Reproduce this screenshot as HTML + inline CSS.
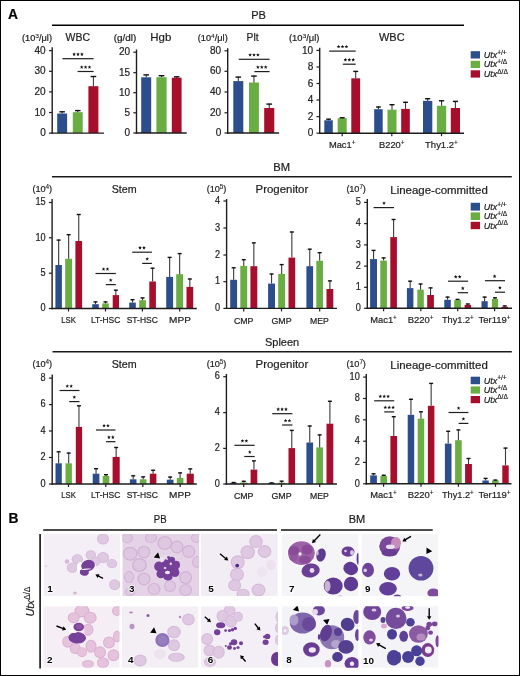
<!DOCTYPE html>
<html><head><meta charset="utf-8"><style>
html,body{margin:0;padding:0;background:#fff;}
body{width:520px;height:676px;overflow:hidden;}
svg{display:block;font-family:"Liberation Sans", sans-serif;will-change:transform;}
text:not(.n){stroke:#222;stroke-width:.2px;}
tspan.s{stroke-width:.1px;}
</style></head><body>
<svg width="520" height="676" viewBox="0 0 520 676">
<rect x="0" y="0" width="520" height="676" fill="#fff"/>
<text x="8.0" y="18.5" font-size="13.8" text-anchor="start" font-weight="bold" font-style="normal" fill="#000" >A</text>
<text x="258.6" y="19" font-size="11" text-anchor="middle" font-weight="normal" font-style="normal" fill="#1a1a1a" >PB</text>
<line x1="52" y1="25.2" x2="464" y2="25.2" stroke="#000" stroke-width="1.5"/>
<rect x="57.2" y="113.5" width="9.899999999999991" height="19.599999999999994" fill="#2c4e8c"/>
<line x1="62.15" y1="113.5" x2="62.15" y2="111.3" stroke="#3a3a3a" stroke-width="1.1"/>
<line x1="59.378" y1="111.8" x2="64.922" y2="111.8" stroke="#111" stroke-width="1.4"/>
<rect x="72.8" y="112.2" width="9.900000000000006" height="20.89999999999999" fill="#6aad43"/>
<line x1="77.75" y1="112.2" x2="77.75" y2="110.1" stroke="#3a3a3a" stroke-width="1.1"/>
<line x1="74.978" y1="110.6" x2="80.522" y2="110.6" stroke="#111" stroke-width="1.4"/>
<rect x="88.4" y="86.2" width="10.0" height="46.89999999999999" fill="#a60e2c"/>
<line x1="93.4" y1="86.2" x2="93.4" y2="76" stroke="#3a3a3a" stroke-width="1.1"/>
<line x1="90.60000000000001" y1="76.5" x2="96.2" y2="76.5" stroke="#111" stroke-width="1.4"/>
<line x1="52.2" y1="47.3" x2="52.2" y2="133.75" stroke="#1e1e1e" stroke-width="1.4"/>
<line x1="51.5" y1="133.1" x2="104" y2="133.1" stroke="#1e1e1e" stroke-width="1.4"/>
<line x1="49.0" y1="50.6" x2="52.2" y2="50.6" stroke="#1e1e1e" stroke-width="1.2"/>
<text x="45.7" y="53.7" font-size="10.0" text-anchor="end" font-weight="normal" font-style="normal" fill="#222" >40</text>
<line x1="49.0" y1="71.3" x2="52.2" y2="71.3" stroke="#1e1e1e" stroke-width="1.2"/>
<text x="45.7" y="74.39999999999999" font-size="10.0" text-anchor="end" font-weight="normal" font-style="normal" fill="#222" >30</text>
<line x1="49.0" y1="91.9" x2="52.2" y2="91.9" stroke="#1e1e1e" stroke-width="1.2"/>
<text x="45.7" y="95.0" font-size="10.0" text-anchor="end" font-weight="normal" font-style="normal" fill="#222" >20</text>
<line x1="49.0" y1="112.5" x2="52.2" y2="112.5" stroke="#1e1e1e" stroke-width="1.2"/>
<text x="45.7" y="115.6" font-size="10.0" text-anchor="end" font-weight="normal" font-style="normal" fill="#222" >10</text>
<line x1="49.0" y1="133.1" x2="52.2" y2="133.1" stroke="#1e1e1e" stroke-width="1.2"/>
<text x="45.7" y="136.2" font-size="10.0" text-anchor="end" font-weight="normal" font-style="normal" fill="#222" >0</text>
<line x1="62.4" y1="58.7" x2="93.6" y2="58.7" stroke="#1e1e1e" stroke-width="1.2"/>
<polygon points="74.10,52.35 74.60,53.61 75.95,53.70 74.91,54.56 75.25,55.88 74.10,55.15 72.95,55.88 73.29,54.56 72.25,53.70 73.60,53.61" fill="#111"/>
<polygon points="78.00,52.35 78.50,53.61 79.85,53.70 78.81,54.56 79.15,55.88 78.00,55.15 76.85,55.88 77.19,54.56 76.15,53.70 77.50,53.61" fill="#111"/>
<polygon points="81.90,52.35 82.40,53.61 83.75,53.70 82.71,54.56 83.05,55.88 81.90,55.15 80.75,55.88 81.09,54.56 80.05,53.70 81.40,53.61" fill="#111"/>
<line x1="77.6" y1="71.5" x2="93.6" y2="71.5" stroke="#1e1e1e" stroke-width="1.2"/>
<polygon points="81.70,65.15 82.20,66.41 83.55,66.50 82.51,67.36 82.85,68.68 81.70,67.95 80.55,68.68 80.89,67.36 79.85,66.50 81.20,66.41" fill="#111"/>
<polygon points="85.60,65.15 86.10,66.41 87.45,66.50 86.41,67.36 86.75,68.68 85.60,67.95 84.45,68.68 84.79,67.36 83.75,66.50 85.10,66.41" fill="#111"/>
<polygon points="89.50,65.15 90.00,66.41 91.35,66.50 90.31,67.36 90.65,68.68 89.50,67.95 88.35,68.68 88.69,67.36 87.65,66.50 89.00,66.41" fill="#111"/>
<text x="22" y="40.9" font-size="8.5" fill="#1a1a1a" textLength="30" lengthAdjust="spacingAndGlyphs">(10<tspan class="s" baseline-shift="3.0" font-size="72%">3</tspan>/&#956;l)</text>
<text x="65.5" y="41.2" font-size="11" text-anchor="start" font-weight="normal" font-style="normal" fill="#1a1a1a" textLength="24.5" lengthAdjust="spacingAndGlyphs" >WBC</text>
<rect x="141.2" y="77.3" width="10.0" height="55.7" fill="#2c4e8c"/>
<line x1="146.2" y1="77.3" x2="146.2" y2="74.4" stroke="#3a3a3a" stroke-width="1.1"/>
<line x1="143.39999999999998" y1="74.9" x2="149.0" y2="74.9" stroke="#111" stroke-width="1.4"/>
<rect x="156.4" y="77.2" width="10.199999999999989" height="55.8" fill="#6aad43"/>
<line x1="161.5" y1="77.2" x2="161.5" y2="75.2" stroke="#3a3a3a" stroke-width="1.1"/>
<line x1="158.644" y1="75.7" x2="164.356" y2="75.7" stroke="#111" stroke-width="1.4"/>
<rect x="171.8" y="77.7" width="9.799999999999983" height="55.3" fill="#a60e2c"/>
<line x1="176.7" y1="77.7" x2="176.7" y2="76.3" stroke="#3a3a3a" stroke-width="1.1"/>
<line x1="173.956" y1="76.8" x2="179.444" y2="76.8" stroke="#111" stroke-width="1.4"/>
<line x1="136.5" y1="49.5" x2="136.5" y2="133.65" stroke="#1e1e1e" stroke-width="1.4"/>
<line x1="135.8" y1="133" x2="186.7" y2="133" stroke="#1e1e1e" stroke-width="1.4"/>
<line x1="133.3" y1="52.2" x2="136.5" y2="52.2" stroke="#1e1e1e" stroke-width="1.2"/>
<text x="130.0" y="55.300000000000004" font-size="10.0" text-anchor="end" font-weight="normal" font-style="normal" fill="#222" >20</text>
<line x1="133.3" y1="72.7" x2="136.5" y2="72.7" stroke="#1e1e1e" stroke-width="1.2"/>
<text x="130.0" y="75.8" font-size="10.0" text-anchor="end" font-weight="normal" font-style="normal" fill="#222" >15</text>
<line x1="133.3" y1="92.7" x2="136.5" y2="92.7" stroke="#1e1e1e" stroke-width="1.2"/>
<text x="130.0" y="95.8" font-size="10.0" text-anchor="end" font-weight="normal" font-style="normal" fill="#222" >10</text>
<line x1="133.3" y1="112.8" x2="136.5" y2="112.8" stroke="#1e1e1e" stroke-width="1.2"/>
<text x="130.0" y="115.89999999999999" font-size="10.0" text-anchor="end" font-weight="normal" font-style="normal" fill="#222" >5</text>
<line x1="133.3" y1="133" x2="136.5" y2="133" stroke="#1e1e1e" stroke-width="1.2"/>
<text x="130.0" y="136.1" font-size="10.0" text-anchor="end" font-weight="normal" font-style="normal" fill="#222" >0</text>
<text x="113.8" y="40.9" font-size="8.5" text-anchor="start" font-weight="normal" font-style="normal" fill="#1a1a1a" textLength="22.5" lengthAdjust="spacingAndGlyphs" >(g/dl)</text>
<text x="150.3" y="41.2" font-size="11" text-anchor="start" font-weight="normal" font-style="normal" fill="#1a1a1a" textLength="21" lengthAdjust="spacingAndGlyphs" >Hgb</text>
<rect x="233.3" y="81.1" width="10.0" height="51.900000000000006" fill="#2c4e8c"/>
<line x1="238.3" y1="81.1" x2="238.3" y2="76.6" stroke="#3a3a3a" stroke-width="1.1"/>
<line x1="235.5" y1="77.1" x2="241.10000000000002" y2="77.1" stroke="#111" stroke-width="1.4"/>
<rect x="249" y="82.5" width="9.899999999999977" height="50.5" fill="#6aad43"/>
<line x1="253.95" y1="82.5" x2="253.95" y2="75.6" stroke="#3a3a3a" stroke-width="1.1"/>
<line x1="251.178" y1="76.1" x2="256.722" y2="76.1" stroke="#111" stroke-width="1.4"/>
<rect x="264.2" y="108" width="10.100000000000023" height="25" fill="#a60e2c"/>
<line x1="269.25" y1="108" x2="269.25" y2="103.6" stroke="#3a3a3a" stroke-width="1.1"/>
<line x1="266.42199999999997" y1="104.1" x2="272.07800000000003" y2="104.1" stroke="#111" stroke-width="1.4"/>
<line x1="227.7" y1="48.3" x2="227.7" y2="133.65" stroke="#1e1e1e" stroke-width="1.4"/>
<line x1="227.0" y1="133" x2="279.1" y2="133" stroke="#1e1e1e" stroke-width="1.4"/>
<line x1="224.5" y1="50.8" x2="227.7" y2="50.8" stroke="#1e1e1e" stroke-width="1.2"/>
<text x="221.2" y="53.9" font-size="10.0" text-anchor="end" font-weight="normal" font-style="normal" fill="#222" >80</text>
<line x1="224.5" y1="71.3" x2="227.7" y2="71.3" stroke="#1e1e1e" stroke-width="1.2"/>
<text x="221.2" y="74.39999999999999" font-size="10.0" text-anchor="end" font-weight="normal" font-style="normal" fill="#222" >60</text>
<line x1="224.5" y1="92" x2="227.7" y2="92" stroke="#1e1e1e" stroke-width="1.2"/>
<text x="221.2" y="95.1" font-size="10.0" text-anchor="end" font-weight="normal" font-style="normal" fill="#222" >40</text>
<line x1="224.5" y1="112.8" x2="227.7" y2="112.8" stroke="#1e1e1e" stroke-width="1.2"/>
<text x="221.2" y="115.89999999999999" font-size="10.0" text-anchor="end" font-weight="normal" font-style="normal" fill="#222" >20</text>
<line x1="224.5" y1="133" x2="227.7" y2="133" stroke="#1e1e1e" stroke-width="1.2"/>
<text x="221.2" y="136.1" font-size="10.0" text-anchor="end" font-weight="normal" font-style="normal" fill="#222" >0</text>
<line x1="238.8" y1="59.3" x2="269.6" y2="59.3" stroke="#1e1e1e" stroke-width="1.2"/>
<polygon points="250.10,52.95 250.60,54.21 251.95,54.30 250.91,55.16 251.25,56.48 250.10,55.75 248.95,56.48 249.29,55.16 248.25,54.30 249.60,54.21" fill="#111"/>
<polygon points="254.00,52.95 254.50,54.21 255.85,54.30 254.81,55.16 255.15,56.48 254.00,55.75 252.85,56.48 253.19,55.16 252.15,54.30 253.50,54.21" fill="#111"/>
<polygon points="257.90,52.95 258.40,54.21 259.75,54.30 258.71,55.16 259.05,56.48 257.90,55.75 256.75,56.48 257.09,55.16 256.05,54.30 257.40,54.21" fill="#111"/>
<line x1="254.4" y1="71.6" x2="269.6" y2="71.6" stroke="#1e1e1e" stroke-width="1.2"/>
<polygon points="257.90,65.25 258.40,66.51 259.75,66.60 258.71,67.46 259.05,68.78 257.90,68.05 256.75,68.78 257.09,67.46 256.05,66.60 257.40,66.51" fill="#111"/>
<polygon points="261.80,65.25 262.30,66.51 263.65,66.60 262.61,67.46 262.95,68.78 261.80,68.05 260.65,68.78 260.99,67.46 259.95,66.60 261.30,66.51" fill="#111"/>
<polygon points="265.70,65.25 266.20,66.51 267.55,66.60 266.51,67.46 266.85,68.78 265.70,68.05 264.55,68.78 264.89,67.46 263.85,66.60 265.20,66.51" fill="#111"/>
<text x="197.8" y="40.9" font-size="8.5" fill="#1a1a1a" textLength="29.9" lengthAdjust="spacingAndGlyphs">(10<tspan class="s" baseline-shift="3.0" font-size="72%">4</tspan>/&#956;l)</text>
<text x="246.6" y="41.2" font-size="11" text-anchor="start" font-weight="normal" font-style="normal" fill="#1a1a1a" textLength="12" lengthAdjust="spacingAndGlyphs" >Plt</text>
<rect x="324.3" y="120.3" width="8.5" height="12.899999999999991" fill="#2c4e8c"/>
<line x1="328.55" y1="120.3" x2="328.55" y2="118.7" stroke="#3a3a3a" stroke-width="1.1"/>
<line x1="326.17" y1="119.2" x2="330.93" y2="119.2" stroke="#111" stroke-width="1.4"/>
<rect x="337.7" y="118.2" width="9.0" height="14.999999999999986" fill="#6aad43"/>
<line x1="342.2" y1="118.2" x2="342.2" y2="117.3" stroke="#3a3a3a" stroke-width="1.1"/>
<line x1="339.68" y1="117.8" x2="344.71999999999997" y2="117.8" stroke="#111" stroke-width="1.4"/>
<rect x="351.3" y="78.3" width="8.800000000000011" height="54.89999999999999" fill="#a60e2c"/>
<line x1="355.70000000000005" y1="78.3" x2="355.70000000000005" y2="70.9" stroke="#3a3a3a" stroke-width="1.1"/>
<line x1="353.23600000000005" y1="71.4" x2="358.16400000000004" y2="71.4" stroke="#111" stroke-width="1.4"/>
<rect x="374.2" y="109.2" width="8.5" height="23.999999999999986" fill="#2c4e8c"/>
<line x1="378.45" y1="109.2" x2="378.45" y2="106.5" stroke="#3a3a3a" stroke-width="1.1"/>
<line x1="376.07" y1="107.0" x2="380.83" y2="107.0" stroke="#111" stroke-width="1.4"/>
<rect x="387.5" y="109.7" width="9.0" height="23.499999999999986" fill="#6aad43"/>
<line x1="392.0" y1="109.7" x2="392.0" y2="104.2" stroke="#3a3a3a" stroke-width="1.1"/>
<line x1="389.48" y1="104.7" x2="394.52" y2="104.7" stroke="#111" stroke-width="1.4"/>
<rect x="401.2" y="108.9" width="8.600000000000023" height="24.299999999999983" fill="#a60e2c"/>
<line x1="405.5" y1="108.9" x2="405.5" y2="101.8" stroke="#3a3a3a" stroke-width="1.1"/>
<line x1="403.092" y1="102.3" x2="407.908" y2="102.3" stroke="#111" stroke-width="1.4"/>
<rect x="423" y="100.9" width="9.300000000000011" height="32.29999999999998" fill="#2c4e8c"/>
<line x1="427.65" y1="100.9" x2="427.65" y2="98.2" stroke="#3a3a3a" stroke-width="1.1"/>
<line x1="425.046" y1="98.7" x2="430.25399999999996" y2="98.7" stroke="#111" stroke-width="1.4"/>
<rect x="436.9" y="105.8" width="9.300000000000011" height="27.39999999999999" fill="#6aad43"/>
<line x1="441.54999999999995" y1="105.8" x2="441.54999999999995" y2="100.3" stroke="#3a3a3a" stroke-width="1.1"/>
<line x1="438.94599999999997" y1="100.8" x2="444.15399999999994" y2="100.8" stroke="#111" stroke-width="1.4"/>
<rect x="450.8" y="108" width="9.199999999999989" height="25.19999999999999" fill="#a60e2c"/>
<line x1="455.4" y1="108" x2="455.4" y2="100.9" stroke="#3a3a3a" stroke-width="1.1"/>
<line x1="452.82399999999996" y1="101.4" x2="457.976" y2="101.4" stroke="#111" stroke-width="1.4"/>
<line x1="319.7" y1="47.8" x2="319.7" y2="133.85" stroke="#1e1e1e" stroke-width="1.4"/>
<line x1="319.0" y1="133.2" x2="464" y2="133.2" stroke="#1e1e1e" stroke-width="1.4"/>
<line x1="316.5" y1="50.4" x2="319.7" y2="50.4" stroke="#1e1e1e" stroke-width="1.2"/>
<text x="313.2" y="53.5" font-size="10.0" text-anchor="end" font-weight="normal" font-style="normal" fill="#222" >10</text>
<line x1="316.5" y1="67.0" x2="319.7" y2="67.0" stroke="#1e1e1e" stroke-width="1.2"/>
<text x="313.2" y="70.1" font-size="10.0" text-anchor="end" font-weight="normal" font-style="normal" fill="#222" >8</text>
<line x1="316.5" y1="83.5" x2="319.7" y2="83.5" stroke="#1e1e1e" stroke-width="1.2"/>
<text x="313.2" y="86.6" font-size="10.0" text-anchor="end" font-weight="normal" font-style="normal" fill="#222" >6</text>
<line x1="316.5" y1="100" x2="319.7" y2="100" stroke="#1e1e1e" stroke-width="1.2"/>
<text x="313.2" y="103.1" font-size="10.0" text-anchor="end" font-weight="normal" font-style="normal" fill="#222" >4</text>
<line x1="316.5" y1="116.6" x2="319.7" y2="116.6" stroke="#1e1e1e" stroke-width="1.2"/>
<text x="313.2" y="119.69999999999999" font-size="10.0" text-anchor="end" font-weight="normal" font-style="normal" fill="#222" >2</text>
<line x1="316.5" y1="133.2" x2="319.7" y2="133.2" stroke="#1e1e1e" stroke-width="1.2"/>
<text x="313.2" y="136.29999999999998" font-size="10.0" text-anchor="end" font-weight="normal" font-style="normal" fill="#222" >0</text>
<line x1="342.2" y1="133.2" x2="342.2" y2="136.2" stroke="#1e1e1e" stroke-width="1.2"/>
<line x1="391.8" y1="133.2" x2="391.8" y2="136.2" stroke="#1e1e1e" stroke-width="1.2"/>
<line x1="441.5" y1="133.2" x2="441.5" y2="136.2" stroke="#1e1e1e" stroke-width="1.2"/>
<text x="342.2" y="148.0" font-size="9.3" text-anchor="middle" fill="#222" textLength="26.6" lengthAdjust="spacingAndGlyphs">Mac1<tspan class="s" baseline-shift="3.3" font-size="70%">+</tspan></text>
<text x="391.8" y="148.0" font-size="9.3" text-anchor="middle" fill="#222" textLength="25.6" lengthAdjust="spacingAndGlyphs">B220<tspan class="s" baseline-shift="3.3" font-size="70%">+</tspan></text>
<text x="441.5" y="148.0" font-size="9.3" text-anchor="middle" fill="#222" textLength="32.8" lengthAdjust="spacingAndGlyphs">Thy1.2<tspan class="s" baseline-shift="3.3" font-size="70%">+</tspan></text>
<line x1="329.2" y1="51.1" x2="355.7" y2="51.1" stroke="#1e1e1e" stroke-width="1.2"/>
<polygon points="338.60,44.75 339.10,46.01 340.45,46.10 339.41,46.96 339.75,48.28 338.60,47.55 337.45,48.28 337.79,46.96 336.75,46.10 338.10,46.01" fill="#111"/>
<polygon points="342.50,44.75 343.00,46.01 344.35,46.10 343.31,46.96 343.65,48.28 342.50,47.55 341.35,48.28 341.69,46.96 340.65,46.10 342.00,46.01" fill="#111"/>
<polygon points="346.40,44.75 346.90,46.01 348.25,46.10 347.21,46.96 347.55,48.28 346.40,47.55 345.25,48.28 345.59,46.96 344.55,46.10 345.90,46.01" fill="#111"/>
<line x1="342.8" y1="64.2" x2="355.7" y2="64.2" stroke="#1e1e1e" stroke-width="1.2"/>
<polygon points="345.40,57.85 345.90,59.11 347.25,59.20 346.21,60.06 346.55,61.38 345.40,60.65 344.25,61.38 344.59,60.06 343.55,59.20 344.90,59.11" fill="#111"/>
<polygon points="349.30,57.85 349.80,59.11 351.15,59.20 350.11,60.06 350.45,61.38 349.30,60.65 348.15,61.38 348.49,60.06 347.45,59.20 348.80,59.11" fill="#111"/>
<polygon points="353.20,57.85 353.70,59.11 355.05,59.20 354.01,60.06 354.35,61.38 353.20,60.65 352.05,61.38 352.39,60.06 351.35,59.20 352.70,59.11" fill="#111"/>
<text x="288.9" y="40.9" font-size="8.5" fill="#1a1a1a" textLength="30.5" lengthAdjust="spacingAndGlyphs">(10<tspan class="s" baseline-shift="3.0" font-size="72%">3</tspan>/&#956;l)</text>
<text x="379" y="41.2" font-size="11" text-anchor="start" font-weight="normal" font-style="normal" fill="#1a1a1a" textLength="25.6" lengthAdjust="spacingAndGlyphs" >WBC</text>
<rect x="470.7" y="51.2" width="9.3" height="7.299999999999997" fill="#2c4e8c"/>
<text x="483.7" y="57.9" font-size="9" font-style="italic" fill="#1a1a1a">Utx<tspan dy="-3.4" font-size="6.6" font-style="normal">+/+</tspan></text>
<rect x="470.7" y="60.8" width="9.3" height="7.200000000000003" fill="#6aad43"/>
<text x="483.7" y="67.4" font-size="9" font-style="italic" fill="#1a1a1a">Utx<tspan dy="-3.4" font-size="6.6" font-style="normal">+/&#916;</tspan></text>
<rect x="470.7" y="70.3" width="9.3" height="7.299999999999997" fill="#a60e2c"/>
<text x="483.7" y="77.0" font-size="9" font-style="italic" fill="#1a1a1a">Utx<tspan dy="-3.4" font-size="6.6" font-style="normal">&#916;/&#916;</tspan></text>
<text x="281.6" y="170.5" font-size="11" text-anchor="middle" font-weight="normal" font-style="normal" fill="#1a1a1a" textLength="16.8" lengthAdjust="spacingAndGlyphs" >BM</text>
<line x1="52" y1="176.7" x2="511.8" y2="176.7" stroke="#1a1a1a" stroke-width="1.6"/>
<rect x="55.4" y="265" width="6.5" height="43.5" fill="#2c4e8c"/>
<line x1="58.65" y1="265" x2="58.65" y2="239.6" stroke="#3a3a3a" stroke-width="1.1"/>
<line x1="56.65" y1="240.1" x2="60.65" y2="240.1" stroke="#111" stroke-width="1.4"/>
<rect x="65.2" y="258.8" width="6.8999999999999915" height="49.69999999999999" fill="#6aad43"/>
<line x1="68.65" y1="258.8" x2="68.65" y2="234.2" stroke="#3a3a3a" stroke-width="1.1"/>
<line x1="66.65" y1="234.7" x2="70.65" y2="234.7" stroke="#111" stroke-width="1.4"/>
<rect x="75.4" y="241" width="6.699999999999989" height="67.5" fill="#a60e2c"/>
<line x1="78.75" y1="241" x2="78.75" y2="214" stroke="#3a3a3a" stroke-width="1.1"/>
<line x1="76.75" y1="214.5" x2="80.75" y2="214.5" stroke="#111" stroke-width="1.4"/>
<rect x="92.2" y="304.2" width="6.599999999999994" height="4.300000000000011" fill="#2c4e8c"/>
<line x1="95.5" y1="304.2" x2="95.5" y2="301.4" stroke="#3a3a3a" stroke-width="1.1"/>
<line x1="93.5" y1="301.9" x2="97.5" y2="301.9" stroke="#111" stroke-width="1.4"/>
<rect x="102.2" y="303.4" width="6.599999999999994" height="5.100000000000023" fill="#6aad43"/>
<line x1="105.5" y1="303.4" x2="105.5" y2="301.4" stroke="#3a3a3a" stroke-width="1.1"/>
<line x1="103.5" y1="301.9" x2="107.5" y2="301.9" stroke="#111" stroke-width="1.4"/>
<rect x="112.7" y="295.1" width="6.299999999999997" height="13.399999999999977" fill="#a60e2c"/>
<line x1="115.85" y1="295.1" x2="115.85" y2="289.7" stroke="#3a3a3a" stroke-width="1.1"/>
<line x1="113.85" y1="290.2" x2="117.85" y2="290.2" stroke="#111" stroke-width="1.4"/>
<rect x="129.2" y="302.6" width="6.600000000000023" height="5.899999999999977" fill="#2c4e8c"/>
<line x1="132.5" y1="302.6" x2="132.5" y2="299.2" stroke="#3a3a3a" stroke-width="1.1"/>
<line x1="130.5" y1="299.7" x2="134.5" y2="299.7" stroke="#111" stroke-width="1.4"/>
<rect x="139.2" y="300.2" width="6.700000000000017" height="8.300000000000011" fill="#6aad43"/>
<line x1="142.55" y1="300.2" x2="142.55" y2="297.4" stroke="#3a3a3a" stroke-width="1.1"/>
<line x1="140.55" y1="297.9" x2="144.55" y2="297.9" stroke="#111" stroke-width="1.4"/>
<rect x="149.3" y="281.5" width="6.599999999999994" height="27.0" fill="#a60e2c"/>
<line x1="152.60000000000002" y1="281.5" x2="152.60000000000002" y2="267.7" stroke="#3a3a3a" stroke-width="1.1"/>
<line x1="150.60000000000002" y1="268.2" x2="154.60000000000002" y2="268.2" stroke="#111" stroke-width="1.4"/>
<rect x="166.2" y="276.9" width="6.900000000000006" height="31.600000000000023" fill="#2c4e8c"/>
<line x1="169.64999999999998" y1="276.9" x2="169.64999999999998" y2="256.9" stroke="#3a3a3a" stroke-width="1.1"/>
<line x1="167.64999999999998" y1="257.4" x2="171.64999999999998" y2="257.4" stroke="#111" stroke-width="1.4"/>
<rect x="176.2" y="274.2" width="6.900000000000006" height="34.30000000000001" fill="#6aad43"/>
<line x1="179.64999999999998" y1="274.2" x2="179.64999999999998" y2="253.1" stroke="#3a3a3a" stroke-width="1.1"/>
<line x1="177.64999999999998" y1="253.6" x2="181.64999999999998" y2="253.6" stroke="#111" stroke-width="1.4"/>
<rect x="186.5" y="286.9" width="6.699999999999989" height="21.600000000000023" fill="#a60e2c"/>
<line x1="189.85" y1="286.9" x2="189.85" y2="278.5" stroke="#3a3a3a" stroke-width="1.1"/>
<line x1="187.85" y1="279.0" x2="191.85" y2="279.0" stroke="#111" stroke-width="1.4"/>
<line x1="52.1" y1="199" x2="52.1" y2="309.15" stroke="#1e1e1e" stroke-width="1.4"/>
<line x1="51.4" y1="308.5" x2="196.8" y2="308.5" stroke="#1e1e1e" stroke-width="1.4"/>
<line x1="48.9" y1="202.5" x2="52.1" y2="202.5" stroke="#1e1e1e" stroke-width="1.2"/>
<text x="45.6" y="205.227" font-size="10.1" text-anchor="end" font-weight="normal" font-style="normal" fill="#222" textLength="10.22" lengthAdjust="spacingAndGlyphs" >15</text>
<line x1="48.9" y1="237.8" x2="52.1" y2="237.8" stroke="#1e1e1e" stroke-width="1.2"/>
<text x="45.6" y="240.52700000000002" font-size="10.1" text-anchor="end" font-weight="normal" font-style="normal" fill="#222" textLength="10.22" lengthAdjust="spacingAndGlyphs" >10</text>
<line x1="48.9" y1="273.2" x2="52.1" y2="273.2" stroke="#1e1e1e" stroke-width="1.2"/>
<text x="45.6" y="275.92699999999996" font-size="10.1" text-anchor="end" font-weight="normal" font-style="normal" fill="#222" textLength="5.11" lengthAdjust="spacingAndGlyphs" >5</text>
<line x1="48.9" y1="308.5" x2="52.1" y2="308.5" stroke="#1e1e1e" stroke-width="1.2"/>
<text x="45.6" y="311.227" font-size="10.1" text-anchor="end" font-weight="normal" font-style="normal" fill="#222" textLength="5.11" lengthAdjust="spacingAndGlyphs" >0</text>
<line x1="68.5" y1="308.5" x2="68.5" y2="311.5" stroke="#1e1e1e" stroke-width="1.2"/>
<line x1="105.5" y1="308.5" x2="105.5" y2="311.5" stroke="#1e1e1e" stroke-width="1.2"/>
<line x1="142.4" y1="308.5" x2="142.4" y2="311.5" stroke="#1e1e1e" stroke-width="1.2"/>
<line x1="179.7" y1="308.5" x2="179.7" y2="311.5" stroke="#1e1e1e" stroke-width="1.2"/>
<text x="68.5" y="323.3" font-size="9.3" text-anchor="middle" fill="#222" textLength="14.6" lengthAdjust="spacingAndGlyphs">LSK</text>
<text x="105.6" y="323.3" font-size="9.3" text-anchor="middle" fill="#222" textLength="29.4" lengthAdjust="spacingAndGlyphs">LT-HSC</text>
<text x="142.3" y="323.3" font-size="9.3" text-anchor="middle" fill="#222" textLength="31.2" lengthAdjust="spacingAndGlyphs">ST-HSC</text>
<text x="180" y="323.3" font-size="9.3" text-anchor="middle" fill="#222" textLength="21.8" lengthAdjust="spacingAndGlyphs">MPP</text>
<line x1="95.5" y1="273.5" x2="115.8" y2="273.5" stroke="#1e1e1e" stroke-width="1.2"/>
<polygon points="103.55,267.15 104.05,268.41 105.40,268.50 104.36,269.36 104.70,270.68 103.55,269.95 102.40,270.68 102.74,269.36 101.70,268.50 103.05,268.41" fill="#111"/>
<polygon points="107.45,267.15 107.95,268.41 109.30,268.50 108.26,269.36 108.60,270.68 107.45,269.95 106.30,270.68 106.64,269.36 105.60,268.50 106.95,268.41" fill="#111"/>
<line x1="105.8" y1="284.6" x2="115.8" y2="284.6" stroke="#1e1e1e" stroke-width="1.2"/>
<polygon points="110.70,278.25 111.20,279.51 112.55,279.60 111.51,280.46 111.85,281.78 110.70,281.05 109.55,281.78 109.89,280.46 108.85,279.60 110.20,279.51" fill="#111"/>
<line x1="132.2" y1="252.2" x2="151.9" y2="252.2" stroke="#1e1e1e" stroke-width="1.2"/>
<polygon points="140.05,245.85 140.55,247.11 141.90,247.20 140.86,248.06 141.20,249.38 140.05,248.65 138.90,249.38 139.24,248.06 138.20,247.20 139.55,247.11" fill="#111"/>
<polygon points="143.95,245.85 144.45,247.11 145.80,247.20 144.76,248.06 145.10,249.38 143.95,248.65 142.80,249.38 143.14,248.06 142.10,247.20 143.45,247.11" fill="#111"/>
<line x1="142.2" y1="263.4" x2="151.9" y2="263.4" stroke="#1e1e1e" stroke-width="1.2"/>
<polygon points="147.20,257.05 147.70,258.31 149.05,258.40 148.01,259.26 148.35,260.58 147.20,259.85 146.05,260.58 146.39,259.26 145.35,258.40 146.70,258.31" fill="#111"/>
<text x="32.5" y="192.2" font-size="9.2" fill="#1a1a1a" letter-spacing="-0.1">(10<tspan class="s" baseline-shift="3.3" font-size="70%">4</tspan>)</text>
<text x="111.7" y="192.8" font-size="11" text-anchor="start" font-weight="normal" font-style="normal" fill="#1a1a1a" textLength="25" lengthAdjust="spacingAndGlyphs" >Stem</text>
<rect x="230.2" y="279.8" width="6.900000000000006" height="28.599999999999966" fill="#2c4e8c"/>
<line x1="233.64999999999998" y1="279.8" x2="233.64999999999998" y2="267.3" stroke="#3a3a3a" stroke-width="1.1"/>
<line x1="231.64999999999998" y1="267.8" x2="235.64999999999998" y2="267.8" stroke="#111" stroke-width="1.4"/>
<rect x="240.3" y="265.9" width="6.899999999999977" height="42.5" fill="#6aad43"/>
<line x1="243.75" y1="265.9" x2="243.75" y2="259.2" stroke="#3a3a3a" stroke-width="1.1"/>
<line x1="241.75" y1="259.7" x2="245.75" y2="259.7" stroke="#111" stroke-width="1.4"/>
<rect x="250.4" y="266.2" width="6.900000000000006" height="42.19999999999999" fill="#a60e2c"/>
<line x1="253.85000000000002" y1="266.2" x2="253.85000000000002" y2="242.4" stroke="#3a3a3a" stroke-width="1.1"/>
<line x1="251.85000000000002" y1="242.9" x2="255.85000000000002" y2="242.9" stroke="#111" stroke-width="1.4"/>
<rect x="268.1" y="283.6" width="6.899999999999977" height="24.799999999999955" fill="#2c4e8c"/>
<line x1="271.55" y1="283.6" x2="271.55" y2="273.5" stroke="#3a3a3a" stroke-width="1.1"/>
<line x1="269.55" y1="274.0" x2="273.55" y2="274.0" stroke="#111" stroke-width="1.4"/>
<rect x="278.2" y="273.9" width="6.900000000000034" height="34.5" fill="#6aad43"/>
<line x1="281.65" y1="273.9" x2="281.65" y2="264.1" stroke="#3a3a3a" stroke-width="1.1"/>
<line x1="279.65" y1="264.6" x2="283.65" y2="264.6" stroke="#111" stroke-width="1.4"/>
<rect x="288.5" y="257.6" width="6.699999999999989" height="50.799999999999955" fill="#a60e2c"/>
<line x1="291.85" y1="257.6" x2="291.85" y2="231.5" stroke="#3a3a3a" stroke-width="1.1"/>
<line x1="289.85" y1="232.0" x2="293.85" y2="232.0" stroke="#111" stroke-width="1.4"/>
<rect x="306.4" y="266.2" width="6.7000000000000455" height="42.19999999999999" fill="#2c4e8c"/>
<line x1="309.75" y1="266.2" x2="309.75" y2="248.7" stroke="#3a3a3a" stroke-width="1.1"/>
<line x1="307.75" y1="249.2" x2="311.75" y2="249.2" stroke="#111" stroke-width="1.4"/>
<rect x="316.3" y="260.8" width="6.699999999999989" height="47.599999999999966" fill="#6aad43"/>
<line x1="319.65" y1="260.8" x2="319.65" y2="252.2" stroke="#3a3a3a" stroke-width="1.1"/>
<line x1="317.65" y1="252.7" x2="321.65" y2="252.7" stroke="#111" stroke-width="1.4"/>
<rect x="326.5" y="289" width="6.800000000000011" height="19.399999999999977" fill="#a60e2c"/>
<line x1="329.9" y1="289" x2="329.9" y2="280.4" stroke="#3a3a3a" stroke-width="1.1"/>
<line x1="327.9" y1="280.9" x2="331.9" y2="280.9" stroke="#111" stroke-width="1.4"/>
<line x1="226.6" y1="199" x2="226.6" y2="309.04999999999995" stroke="#1e1e1e" stroke-width="1.4"/>
<line x1="225.9" y1="308.4" x2="337" y2="308.4" stroke="#1e1e1e" stroke-width="1.4"/>
<line x1="223.4" y1="201" x2="226.6" y2="201" stroke="#1e1e1e" stroke-width="1.2"/>
<text x="220.1" y="203.727" font-size="10.1" text-anchor="end" font-weight="normal" font-style="normal" fill="#222" textLength="5.11" lengthAdjust="spacingAndGlyphs" >4</text>
<line x1="223.4" y1="228" x2="226.6" y2="228" stroke="#1e1e1e" stroke-width="1.2"/>
<text x="220.1" y="230.727" font-size="10.1" text-anchor="end" font-weight="normal" font-style="normal" fill="#222" textLength="5.11" lengthAdjust="spacingAndGlyphs" >3</text>
<line x1="223.4" y1="255" x2="226.6" y2="255" stroke="#1e1e1e" stroke-width="1.2"/>
<text x="220.1" y="257.727" font-size="10.1" text-anchor="end" font-weight="normal" font-style="normal" fill="#222" textLength="5.11" lengthAdjust="spacingAndGlyphs" >2</text>
<line x1="223.4" y1="281.7" x2="226.6" y2="281.7" stroke="#1e1e1e" stroke-width="1.2"/>
<text x="220.1" y="284.42699999999996" font-size="10.1" text-anchor="end" font-weight="normal" font-style="normal" fill="#222" textLength="5.11" lengthAdjust="spacingAndGlyphs" >1</text>
<line x1="223.4" y1="308.4" x2="226.6" y2="308.4" stroke="#1e1e1e" stroke-width="1.2"/>
<text x="220.1" y="311.12699999999995" font-size="10.1" text-anchor="end" font-weight="normal" font-style="normal" fill="#222" textLength="5.11" lengthAdjust="spacingAndGlyphs" >0</text>
<line x1="243.7" y1="308.4" x2="243.7" y2="311.4" stroke="#1e1e1e" stroke-width="1.2"/>
<line x1="281.5" y1="308.4" x2="281.5" y2="311.4" stroke="#1e1e1e" stroke-width="1.2"/>
<line x1="319.7" y1="308.4" x2="319.7" y2="311.4" stroke="#1e1e1e" stroke-width="1.2"/>
<text x="243.7" y="323.5" font-size="9.3" text-anchor="middle" fill="#222" textLength="19.6" lengthAdjust="spacingAndGlyphs">CMP</text>
<text x="281.5" y="323.5" font-size="9.3" text-anchor="middle" fill="#222" textLength="20.2" lengthAdjust="spacingAndGlyphs">GMP</text>
<text x="319.5" y="323.5" font-size="9.3" text-anchor="middle" fill="#222" textLength="18.8" lengthAdjust="spacingAndGlyphs">MEP</text>
<text x="206.8" y="192.2" font-size="9.2" fill="#1a1a1a" letter-spacing="-0.1">(10<tspan class="s" baseline-shift="3.3" font-size="70%">5</tspan>)</text>
<text x="255.5" y="193.0" font-size="11" text-anchor="start" font-weight="normal" font-style="normal" fill="#1a1a1a" textLength="52.8" lengthAdjust="spacingAndGlyphs" >Progenitor</text>
<rect x="370.1" y="259.1" width="6.899999999999977" height="49.19999999999999" fill="#2c4e8c"/>
<line x1="373.55" y1="259.1" x2="373.55" y2="249.9" stroke="#3a3a3a" stroke-width="1.1"/>
<line x1="371.55" y1="250.4" x2="375.55" y2="250.4" stroke="#111" stroke-width="1.4"/>
<rect x="380.3" y="260.6" width="6.599999999999966" height="47.69999999999999" fill="#6aad43"/>
<line x1="383.6" y1="260.6" x2="383.6" y2="257.4" stroke="#3a3a3a" stroke-width="1.1"/>
<line x1="381.6" y1="257.9" x2="385.6" y2="257.9" stroke="#111" stroke-width="1.4"/>
<rect x="390.3" y="237.1" width="6.599999999999966" height="71.20000000000002" fill="#a60e2c"/>
<line x1="393.6" y1="237.1" x2="393.6" y2="219" stroke="#3a3a3a" stroke-width="1.1"/>
<line x1="391.6" y1="219.5" x2="395.6" y2="219.5" stroke="#111" stroke-width="1.4"/>
<rect x="406.9" y="288.1" width="6.5" height="20.19999999999999" fill="#2c4e8c"/>
<line x1="410.15" y1="288.1" x2="410.15" y2="280.7" stroke="#3a3a3a" stroke-width="1.1"/>
<line x1="408.15" y1="281.2" x2="412.15" y2="281.2" stroke="#111" stroke-width="1.4"/>
<rect x="417.3" y="289.7" width="6.5" height="18.600000000000023" fill="#6aad43"/>
<line x1="420.55" y1="289.7" x2="420.55" y2="283.5" stroke="#3a3a3a" stroke-width="1.1"/>
<line x1="418.55" y1="284.0" x2="422.55" y2="284.0" stroke="#111" stroke-width="1.4"/>
<rect x="427.2" y="295" width="6.699999999999989" height="13.300000000000011" fill="#a60e2c"/>
<line x1="430.54999999999995" y1="295" x2="430.54999999999995" y2="287.4" stroke="#3a3a3a" stroke-width="1.1"/>
<line x1="428.54999999999995" y1="287.9" x2="432.54999999999995" y2="287.9" stroke="#111" stroke-width="1.4"/>
<rect x="444.3" y="299.8" width="6.5" height="8.5" fill="#2c4e8c"/>
<line x1="447.55" y1="299.8" x2="447.55" y2="296.6" stroke="#3a3a3a" stroke-width="1.1"/>
<line x1="445.55" y1="297.1" x2="449.55" y2="297.1" stroke="#111" stroke-width="1.4"/>
<rect x="454.2" y="300.1" width="6.699999999999989" height="8.199999999999989" fill="#6aad43"/>
<line x1="457.54999999999995" y1="300.1" x2="457.54999999999995" y2="298.9" stroke="#3a3a3a" stroke-width="1.1"/>
<line x1="455.54999999999995" y1="299.4" x2="459.54999999999995" y2="299.4" stroke="#111" stroke-width="1.4"/>
<rect x="464.6" y="304.9" width="6.5" height="3.400000000000034" fill="#a60e2c"/>
<line x1="467.85" y1="304.9" x2="467.85" y2="303.5" stroke="#3a3a3a" stroke-width="1.1"/>
<line x1="465.85" y1="304.0" x2="469.85" y2="304.0" stroke="#111" stroke-width="1.4"/>
<rect x="481.5" y="301.2" width="6.199999999999989" height="7.100000000000023" fill="#2c4e8c"/>
<line x1="484.6" y1="301.2" x2="484.6" y2="296.6" stroke="#3a3a3a" stroke-width="1.1"/>
<line x1="482.6" y1="297.1" x2="486.6" y2="297.1" stroke="#111" stroke-width="1.4"/>
<rect x="491.9" y="298.9" width="6.2000000000000455" height="9.400000000000034" fill="#6aad43"/>
<line x1="495.0" y1="298.9" x2="495.0" y2="297.3" stroke="#3a3a3a" stroke-width="1.1"/>
<line x1="493.0" y1="297.8" x2="497.0" y2="297.8" stroke="#111" stroke-width="1.4"/>
<rect x="501.5" y="306.8" width="6.5" height="1.5" fill="#a60e2c"/>
<line x1="504.75" y1="306.8" x2="504.75" y2="305.4" stroke="#3a3a3a" stroke-width="1.1"/>
<line x1="502.75" y1="305.9" x2="506.75" y2="305.9" stroke="#111" stroke-width="1.4"/>
<line x1="367.3" y1="199" x2="367.3" y2="308.95" stroke="#1e1e1e" stroke-width="1.4"/>
<line x1="366.6" y1="308.3" x2="512" y2="308.3" stroke="#1e1e1e" stroke-width="1.4"/>
<line x1="364.1" y1="202.4" x2="367.3" y2="202.4" stroke="#1e1e1e" stroke-width="1.2"/>
<text x="360.8" y="205.127" font-size="10.1" text-anchor="end" font-weight="normal" font-style="normal" fill="#222" textLength="5.11" lengthAdjust="spacingAndGlyphs" >5</text>
<line x1="364.1" y1="223.6" x2="367.3" y2="223.6" stroke="#1e1e1e" stroke-width="1.2"/>
<text x="360.8" y="226.327" font-size="10.1" text-anchor="end" font-weight="normal" font-style="normal" fill="#222" textLength="5.11" lengthAdjust="spacingAndGlyphs" >4</text>
<line x1="364.1" y1="244.9" x2="367.3" y2="244.9" stroke="#1e1e1e" stroke-width="1.2"/>
<text x="360.8" y="247.627" font-size="10.1" text-anchor="end" font-weight="normal" font-style="normal" fill="#222" textLength="5.11" lengthAdjust="spacingAndGlyphs" >3</text>
<line x1="364.1" y1="266.1" x2="367.3" y2="266.1" stroke="#1e1e1e" stroke-width="1.2"/>
<text x="360.8" y="268.827" font-size="10.1" text-anchor="end" font-weight="normal" font-style="normal" fill="#222" textLength="5.11" lengthAdjust="spacingAndGlyphs" >2</text>
<line x1="364.1" y1="287.3" x2="367.3" y2="287.3" stroke="#1e1e1e" stroke-width="1.2"/>
<text x="360.8" y="290.027" font-size="10.1" text-anchor="end" font-weight="normal" font-style="normal" fill="#222" textLength="5.11" lengthAdjust="spacingAndGlyphs" >1</text>
<line x1="364.1" y1="308.3" x2="367.3" y2="308.3" stroke="#1e1e1e" stroke-width="1.2"/>
<text x="360.8" y="311.027" font-size="10.1" text-anchor="end" font-weight="normal" font-style="normal" fill="#222" textLength="5.11" lengthAdjust="spacingAndGlyphs" >0</text>
<line x1="383.6" y1="308.3" x2="383.6" y2="311.3" stroke="#1e1e1e" stroke-width="1.2"/>
<line x1="420.8" y1="308.3" x2="420.8" y2="311.3" stroke="#1e1e1e" stroke-width="1.2"/>
<line x1="457.7" y1="308.3" x2="457.7" y2="311.3" stroke="#1e1e1e" stroke-width="1.2"/>
<line x1="494.6" y1="308.3" x2="494.6" y2="311.3" stroke="#1e1e1e" stroke-width="1.2"/>
<text x="383.6" y="323.2" font-size="9.3" text-anchor="middle" fill="#222" textLength="26.6" lengthAdjust="spacingAndGlyphs">Mac1<tspan class="s" baseline-shift="3.3" font-size="70%">+</tspan></text>
<text x="420.6" y="323.2" font-size="9.3" text-anchor="middle" fill="#222" textLength="25.9" lengthAdjust="spacingAndGlyphs">B220<tspan class="s" baseline-shift="3.3" font-size="70%">+</tspan></text>
<text x="457.9" y="323.2" font-size="9.3" text-anchor="middle" fill="#222" textLength="31.8" lengthAdjust="spacingAndGlyphs">Thy1.2<tspan class="s" baseline-shift="3.3" font-size="70%">+</tspan></text>
<text x="494.6" y="323.2" font-size="9.3" text-anchor="middle" fill="#222" textLength="32.3" lengthAdjust="spacingAndGlyphs">Ter119<tspan class="s" baseline-shift="3.3" font-size="70%">+</tspan></text>
<line x1="373.6" y1="207.6" x2="394" y2="207.6" stroke="#1e1e1e" stroke-width="1.2"/>
<polygon points="384.00,201.25 384.50,202.51 385.85,202.60 384.81,203.46 385.15,204.78 384.00,204.05 382.85,204.78 383.19,203.46 382.15,202.60 383.50,202.51" fill="#111"/>
<line x1="448" y1="281.2" x2="468.1" y2="281.2" stroke="#1e1e1e" stroke-width="1.2"/>
<polygon points="455.75,274.85 456.25,276.11 457.60,276.20 456.56,277.06 456.90,278.38 455.75,277.65 454.60,278.38 454.94,277.06 453.90,276.20 455.25,276.11" fill="#111"/>
<polygon points="459.65,274.85 460.15,276.11 461.50,276.20 460.46,277.06 460.80,278.38 459.65,277.65 458.50,278.38 458.84,277.06 457.80,276.20 459.15,276.11" fill="#111"/>
<line x1="457.7" y1="292.7" x2="468.1" y2="292.7" stroke="#1e1e1e" stroke-width="1.2"/>
<polygon points="462.80,286.35 463.30,287.61 464.65,287.70 463.61,288.56 463.95,289.88 462.80,289.15 461.65,289.88 461.99,288.56 460.95,287.70 462.30,287.61" fill="#111"/>
<line x1="484.9" y1="280.7" x2="505" y2="280.7" stroke="#1e1e1e" stroke-width="1.2"/>
<polygon points="494.60,274.35 495.10,275.61 496.45,275.70 495.41,276.56 495.75,277.88 494.60,277.15 493.45,277.88 493.79,276.56 492.75,275.70 494.10,275.61" fill="#111"/>
<line x1="495" y1="292.2" x2="505" y2="292.2" stroke="#1e1e1e" stroke-width="1.2"/>
<polygon points="499.90,285.85 500.40,287.11 501.75,287.20 500.71,288.06 501.05,289.38 499.90,288.65 498.75,289.38 499.09,288.06 498.05,287.20 499.40,287.11" fill="#111"/>
<text x="346.4" y="192.2" font-size="9.2" fill="#1a1a1a" letter-spacing="-0.1">(10<tspan class="s" baseline-shift="3.3" font-size="70%">7</tspan>)</text>
<text x="390.3" y="193.6" font-size="11" text-anchor="start" font-weight="normal" font-style="normal" fill="#1a1a1a" textLength="97.5" lengthAdjust="spacingAndGlyphs" >Lineage-committed</text>
<rect x="470.7" y="202.8" width="9.3" height="7.799999999999983" fill="#2c4e8c"/>
<text x="483.7" y="210.0" font-size="9" font-style="italic" fill="#1a1a1a">Utx<tspan dy="-3.4" font-size="6.6" font-style="normal">+/+</tspan></text>
<rect x="470.7" y="212.4" width="9.3" height="7.599999999999994" fill="#6aad43"/>
<text x="483.7" y="219.4" font-size="9" font-style="italic" fill="#1a1a1a">Utx<tspan dy="-3.4" font-size="6.6" font-style="normal">+/&#916;</tspan></text>
<rect x="470.7" y="221.8" width="9.3" height="7.399999999999977" fill="#a60e2c"/>
<text x="483.7" y="228.6" font-size="9" font-style="italic" fill="#1a1a1a">Utx<tspan dy="-3.4" font-size="6.6" font-style="normal">&#916;/&#916;</tspan></text>
<text x="282.1" y="345.5" font-size="11" text-anchor="middle" font-weight="normal" font-style="normal" fill="#1a1a1a" textLength="34.2" lengthAdjust="spacingAndGlyphs" >Spleen</text>
<line x1="52.5" y1="351.8" x2="511.8" y2="351.8" stroke="#1a1a1a" stroke-width="1.6"/>
<rect x="55.5" y="463.3" width="6.299999999999997" height="20.69999999999999" fill="#2c4e8c"/>
<line x1="58.65" y1="463.3" x2="58.65" y2="451.3" stroke="#3a3a3a" stroke-width="1.1"/>
<line x1="56.65" y1="451.8" x2="60.65" y2="451.8" stroke="#111" stroke-width="1.4"/>
<rect x="65.5" y="463.3" width="6.400000000000006" height="20.69999999999999" fill="#6aad43"/>
<line x1="68.7" y1="463.3" x2="68.7" y2="452.6" stroke="#3a3a3a" stroke-width="1.1"/>
<line x1="66.7" y1="453.1" x2="70.7" y2="453.1" stroke="#111" stroke-width="1.4"/>
<rect x="75.8" y="426.9" width="6.299999999999997" height="57.10000000000002" fill="#a60e2c"/>
<line x1="78.94999999999999" y1="426.9" x2="78.94999999999999" y2="405.3" stroke="#3a3a3a" stroke-width="1.1"/>
<line x1="76.94999999999999" y1="405.8" x2="80.94999999999999" y2="405.8" stroke="#111" stroke-width="1.4"/>
<rect x="92.7" y="473.7" width="6.700000000000003" height="10.300000000000011" fill="#2c4e8c"/>
<line x1="96.05000000000001" y1="473.7" x2="96.05000000000001" y2="468.2" stroke="#3a3a3a" stroke-width="1.1"/>
<line x1="94.05000000000001" y1="468.7" x2="98.05000000000001" y2="468.7" stroke="#111" stroke-width="1.4"/>
<rect x="102.7" y="476" width="6.599999999999994" height="8.0" fill="#6aad43"/>
<line x1="106.0" y1="476" x2="106.0" y2="474.2" stroke="#3a3a3a" stroke-width="1.1"/>
<line x1="104.0" y1="474.7" x2="108.0" y2="474.7" stroke="#111" stroke-width="1.4"/>
<rect x="112.6" y="456.9" width="7.1000000000000085" height="27.100000000000023" fill="#a60e2c"/>
<line x1="116.15" y1="456.9" x2="116.15" y2="447" stroke="#3a3a3a" stroke-width="1.1"/>
<line x1="114.15" y1="447.5" x2="118.15" y2="447.5" stroke="#111" stroke-width="1.4"/>
<rect x="129.9" y="479.3" width="6.599999999999994" height="4.699999999999989" fill="#2c4e8c"/>
<line x1="133.2" y1="479.3" x2="133.2" y2="475.3" stroke="#3a3a3a" stroke-width="1.1"/>
<line x1="131.2" y1="475.8" x2="135.2" y2="475.8" stroke="#111" stroke-width="1.4"/>
<rect x="139.8" y="479.3" width="6.699999999999989" height="4.699999999999989" fill="#6aad43"/>
<line x1="143.15" y1="479.3" x2="143.15" y2="476.4" stroke="#3a3a3a" stroke-width="1.1"/>
<line x1="141.15" y1="476.9" x2="145.15" y2="476.9" stroke="#111" stroke-width="1.4"/>
<rect x="149.8" y="473.7" width="6.599999999999994" height="10.300000000000011" fill="#a60e2c"/>
<line x1="153.10000000000002" y1="473.7" x2="153.10000000000002" y2="469.8" stroke="#3a3a3a" stroke-width="1.1"/>
<line x1="151.10000000000002" y1="470.3" x2="155.10000000000002" y2="470.3" stroke="#111" stroke-width="1.4"/>
<rect x="166.8" y="479.7" width="6.699999999999989" height="4.300000000000011" fill="#2c4e8c"/>
<line x1="170.15" y1="479.7" x2="170.15" y2="476.6" stroke="#3a3a3a" stroke-width="1.1"/>
<line x1="168.15" y1="477.1" x2="172.15" y2="477.1" stroke="#111" stroke-width="1.4"/>
<rect x="176.8" y="477.9" width="6.599999999999994" height="6.100000000000023" fill="#6aad43"/>
<line x1="180.10000000000002" y1="477.9" x2="180.10000000000002" y2="472.4" stroke="#3a3a3a" stroke-width="1.1"/>
<line x1="178.10000000000002" y1="472.9" x2="182.10000000000002" y2="472.9" stroke="#111" stroke-width="1.4"/>
<rect x="186.7" y="473.7" width="7.100000000000023" height="10.300000000000011" fill="#a60e2c"/>
<line x1="190.25" y1="473.7" x2="190.25" y2="468.4" stroke="#3a3a3a" stroke-width="1.1"/>
<line x1="188.25" y1="468.9" x2="192.25" y2="468.9" stroke="#111" stroke-width="1.4"/>
<line x1="52.2" y1="374.5" x2="52.2" y2="484.65" stroke="#1e1e1e" stroke-width="1.4"/>
<line x1="51.5" y1="484.0" x2="196.8" y2="484.0" stroke="#1e1e1e" stroke-width="1.4"/>
<line x1="49.0" y1="378.1" x2="52.2" y2="378.1" stroke="#1e1e1e" stroke-width="1.2"/>
<text x="45.7" y="380.827" font-size="10.1" text-anchor="end" font-weight="normal" font-style="normal" fill="#222" textLength="5.11" lengthAdjust="spacingAndGlyphs" >8</text>
<line x1="49.0" y1="404.6" x2="52.2" y2="404.6" stroke="#1e1e1e" stroke-width="1.2"/>
<text x="45.7" y="407.327" font-size="10.1" text-anchor="end" font-weight="normal" font-style="normal" fill="#222" textLength="5.11" lengthAdjust="spacingAndGlyphs" >6</text>
<line x1="49.0" y1="431.0" x2="52.2" y2="431.0" stroke="#1e1e1e" stroke-width="1.2"/>
<text x="45.7" y="433.727" font-size="10.1" text-anchor="end" font-weight="normal" font-style="normal" fill="#222" textLength="5.11" lengthAdjust="spacingAndGlyphs" >4</text>
<line x1="49.0" y1="457.5" x2="52.2" y2="457.5" stroke="#1e1e1e" stroke-width="1.2"/>
<text x="45.7" y="460.227" font-size="10.1" text-anchor="end" font-weight="normal" font-style="normal" fill="#222" textLength="5.11" lengthAdjust="spacingAndGlyphs" >2</text>
<line x1="49.0" y1="484.0" x2="52.2" y2="484.0" stroke="#1e1e1e" stroke-width="1.2"/>
<text x="45.7" y="486.727" font-size="10.1" text-anchor="end" font-weight="normal" font-style="normal" fill="#222" textLength="5.11" lengthAdjust="spacingAndGlyphs" >0</text>
<line x1="68.5" y1="484.0" x2="68.5" y2="487.0" stroke="#1e1e1e" stroke-width="1.2"/>
<line x1="105.8" y1="484.0" x2="105.8" y2="487.0" stroke="#1e1e1e" stroke-width="1.2"/>
<line x1="142.8" y1="484.0" x2="142.8" y2="487.0" stroke="#1e1e1e" stroke-width="1.2"/>
<line x1="180.2" y1="484.0" x2="180.2" y2="487.0" stroke="#1e1e1e" stroke-width="1.2"/>
<text x="68.5" y="498.4" font-size="9.3" text-anchor="middle" fill="#222" textLength="14.6" lengthAdjust="spacingAndGlyphs">LSK</text>
<text x="105.6" y="498.4" font-size="9.3" text-anchor="middle" fill="#222" textLength="29.4" lengthAdjust="spacingAndGlyphs">LT-HSC</text>
<text x="142.3" y="498.4" font-size="9.3" text-anchor="middle" fill="#222" textLength="31.2" lengthAdjust="spacingAndGlyphs">ST-HSC</text>
<text x="180" y="498.4" font-size="9.3" text-anchor="middle" fill="#222" textLength="21.8" lengthAdjust="spacingAndGlyphs">MPP</text>
<line x1="59.6" y1="390.5" x2="79.5" y2="390.5" stroke="#1e1e1e" stroke-width="1.2"/>
<polygon points="67.25,384.15 67.75,385.41 69.10,385.50 68.06,386.36 68.40,387.68 67.25,386.95 66.10,387.68 66.44,386.36 65.40,385.50 66.75,385.41" fill="#111"/>
<polygon points="71.15,384.15 71.65,385.41 73.00,385.50 71.96,386.36 72.30,387.68 71.15,386.95 70.00,387.68 70.34,386.36 69.30,385.50 70.65,385.41" fill="#111"/>
<line x1="69.2" y1="401.6" x2="79.5" y2="401.6" stroke="#1e1e1e" stroke-width="1.2"/>
<polygon points="74.30,395.25 74.80,396.51 76.15,396.60 75.11,397.46 75.45,398.78 74.30,398.05 73.15,398.78 73.49,397.46 72.45,396.60 73.80,396.51" fill="#111"/>
<line x1="96" y1="430" x2="115.5" y2="430" stroke="#1e1e1e" stroke-width="1.2"/>
<polygon points="104.05,423.65 104.55,424.91 105.90,425.00 104.86,425.86 105.20,427.18 104.05,426.45 102.90,427.18 103.24,425.86 102.20,425.00 103.55,424.91" fill="#111"/>
<polygon points="107.95,423.65 108.45,424.91 109.80,425.00 108.76,425.86 109.10,427.18 107.95,426.45 106.80,427.18 107.14,425.86 106.10,425.00 107.45,424.91" fill="#111"/>
<line x1="106" y1="441.7" x2="115.5" y2="441.7" stroke="#1e1e1e" stroke-width="1.2"/>
<polygon points="108.95,435.35 109.45,436.61 110.80,436.70 109.76,437.56 110.10,438.88 108.95,438.15 107.80,438.88 108.14,437.56 107.10,436.70 108.45,436.61" fill="#111"/>
<polygon points="112.85,435.35 113.35,436.61 114.70,436.70 113.66,437.56 114.00,438.88 112.85,438.15 111.70,438.88 112.04,437.56 111.00,436.70 112.35,436.61" fill="#111"/>
<text x="32.5" y="367.2" font-size="9.2" fill="#1a1a1a" letter-spacing="-0.1">(10<tspan class="s" baseline-shift="3.3" font-size="70%">4</tspan>)</text>
<text x="111.7" y="367.8" font-size="11" text-anchor="start" font-weight="normal" font-style="normal" fill="#1a1a1a" textLength="25" lengthAdjust="spacingAndGlyphs" >Stem</text>
<rect x="230.2" y="482.8" width="6.900000000000006" height="1.1999999999999886" fill="#2c4e8c"/>
<line x1="233.64999999999998" y1="482.8" x2="233.64999999999998" y2="482.0" stroke="#3a3a3a" stroke-width="1.1"/>
<line x1="231.64999999999998" y1="482.5" x2="235.64999999999998" y2="482.5" stroke="#111" stroke-width="1.4"/>
<rect x="240.3" y="482.5" width="6.899999999999977" height="1.5" fill="#6aad43"/>
<line x1="243.75" y1="482.5" x2="243.75" y2="480.8" stroke="#3a3a3a" stroke-width="1.1"/>
<line x1="241.75" y1="481.3" x2="245.75" y2="481.3" stroke="#111" stroke-width="1.4"/>
<rect x="250.6" y="469.6" width="6.700000000000017" height="14.399999999999977" fill="#a60e2c"/>
<line x1="253.95" y1="469.6" x2="253.95" y2="460.4" stroke="#3a3a3a" stroke-width="1.1"/>
<line x1="251.95" y1="460.9" x2="255.95" y2="460.9" stroke="#111" stroke-width="1.4"/>
<rect x="268.1" y="482.9" width="6.899999999999977" height="1.1000000000000227" fill="#2c4e8c"/>
<line x1="271.55" y1="482.9" x2="271.55" y2="482.4" stroke="#3a3a3a" stroke-width="1.1"/>
<line x1="269.55" y1="482.9" x2="273.55" y2="482.9" stroke="#111" stroke-width="1.4"/>
<rect x="278.2" y="482.7" width="6.900000000000034" height="1.3000000000000114" fill="#6aad43"/>
<line x1="281.65" y1="482.7" x2="281.65" y2="480.7" stroke="#3a3a3a" stroke-width="1.1"/>
<line x1="279.65" y1="481.2" x2="283.65" y2="481.2" stroke="#111" stroke-width="1.4"/>
<rect x="288.5" y="448.1" width="6.600000000000023" height="35.89999999999998" fill="#a60e2c"/>
<line x1="291.8" y1="448.1" x2="291.8" y2="429.9" stroke="#3a3a3a" stroke-width="1.1"/>
<line x1="289.8" y1="430.4" x2="293.8" y2="430.4" stroke="#111" stroke-width="1.4"/>
<rect x="306.4" y="442.5" width="6.7000000000000455" height="41.5" fill="#2c4e8c"/>
<line x1="309.75" y1="442.5" x2="309.75" y2="425.5" stroke="#3a3a3a" stroke-width="1.1"/>
<line x1="307.75" y1="426.0" x2="311.75" y2="426.0" stroke="#111" stroke-width="1.4"/>
<rect x="316.3" y="447.4" width="6.699999999999989" height="36.60000000000002" fill="#6aad43"/>
<line x1="319.65" y1="447.4" x2="319.65" y2="434.4" stroke="#3a3a3a" stroke-width="1.1"/>
<line x1="317.65" y1="434.9" x2="321.65" y2="434.9" stroke="#111" stroke-width="1.4"/>
<rect x="326.5" y="423.7" width="6.800000000000011" height="60.30000000000001" fill="#a60e2c"/>
<line x1="329.9" y1="423.7" x2="329.9" y2="400.8" stroke="#3a3a3a" stroke-width="1.1"/>
<line x1="327.9" y1="401.3" x2="331.9" y2="401.3" stroke="#111" stroke-width="1.4"/>
<line x1="226.4" y1="374" x2="226.4" y2="484.65" stroke="#1e1e1e" stroke-width="1.4"/>
<line x1="225.70000000000002" y1="484.0" x2="337" y2="484.0" stroke="#1e1e1e" stroke-width="1.4"/>
<line x1="223.20000000000002" y1="376.7" x2="226.4" y2="376.7" stroke="#1e1e1e" stroke-width="1.2"/>
<text x="219.9" y="379.42699999999996" font-size="10.1" text-anchor="end" font-weight="normal" font-style="normal" fill="#222" textLength="5.11" lengthAdjust="spacingAndGlyphs" >6</text>
<line x1="223.20000000000002" y1="412.6" x2="226.4" y2="412.6" stroke="#1e1e1e" stroke-width="1.2"/>
<text x="219.9" y="415.327" font-size="10.1" text-anchor="end" font-weight="normal" font-style="normal" fill="#222" textLength="5.11" lengthAdjust="spacingAndGlyphs" >4</text>
<line x1="223.20000000000002" y1="448.4" x2="226.4" y2="448.4" stroke="#1e1e1e" stroke-width="1.2"/>
<text x="219.9" y="451.12699999999995" font-size="10.1" text-anchor="end" font-weight="normal" font-style="normal" fill="#222" textLength="5.11" lengthAdjust="spacingAndGlyphs" >2</text>
<line x1="223.20000000000002" y1="484.0" x2="226.4" y2="484.0" stroke="#1e1e1e" stroke-width="1.2"/>
<text x="219.9" y="486.727" font-size="10.1" text-anchor="end" font-weight="normal" font-style="normal" fill="#222" textLength="5.11" lengthAdjust="spacingAndGlyphs" >0</text>
<line x1="243.7" y1="484.0" x2="243.7" y2="487.0" stroke="#1e1e1e" stroke-width="1.2"/>
<line x1="281.5" y1="484.0" x2="281.5" y2="487.0" stroke="#1e1e1e" stroke-width="1.2"/>
<line x1="319.7" y1="484.0" x2="319.7" y2="487.0" stroke="#1e1e1e" stroke-width="1.2"/>
<text x="243.7" y="498.59999999999997" font-size="9.3" text-anchor="middle" fill="#222" textLength="19.6" lengthAdjust="spacingAndGlyphs">CMP</text>
<text x="281.5" y="498.59999999999997" font-size="9.3" text-anchor="middle" fill="#222" textLength="20.2" lengthAdjust="spacingAndGlyphs">GMP</text>
<text x="319.5" y="498.59999999999997" font-size="9.3" text-anchor="middle" fill="#222" textLength="18.8" lengthAdjust="spacingAndGlyphs">MEP</text>
<line x1="234.4" y1="445.3" x2="254.7" y2="445.3" stroke="#1e1e1e" stroke-width="1.2"/>
<polygon points="242.45,438.95 242.95,440.21 244.30,440.30 243.26,441.16 243.60,442.48 242.45,441.75 241.30,442.48 241.64,441.16 240.60,440.30 241.95,440.21" fill="#111"/>
<polygon points="246.35,438.95 246.85,440.21 248.20,440.30 247.16,441.16 247.50,442.48 246.35,441.75 245.20,442.48 245.54,441.16 244.50,440.30 245.85,440.21" fill="#111"/>
<line x1="244.3" y1="456.5" x2="254.7" y2="456.5" stroke="#1e1e1e" stroke-width="1.2"/>
<polygon points="249.80,450.15 250.30,451.41 251.65,451.50 250.61,452.36 250.95,453.68 249.80,452.95 248.65,453.68 248.99,452.36 247.95,451.50 249.30,451.41" fill="#111"/>
<line x1="272.2" y1="413.7" x2="292.4" y2="413.7" stroke="#1e1e1e" stroke-width="1.2"/>
<polygon points="278.20,407.35 278.70,408.61 280.05,408.70 279.01,409.56 279.35,410.88 278.20,410.15 277.05,410.88 277.39,409.56 276.35,408.70 277.70,408.61" fill="#111"/>
<polygon points="282.10,407.35 282.60,408.61 283.95,408.70 282.91,409.56 283.25,410.88 282.10,410.15 280.95,410.88 281.29,409.56 280.25,408.70 281.60,408.61" fill="#111"/>
<polygon points="286.00,407.35 286.50,408.61 287.85,408.70 286.81,409.56 287.15,410.88 286.00,410.15 284.85,410.88 285.19,409.56 284.15,408.70 285.50,408.61" fill="#111"/>
<line x1="282.1" y1="425" x2="292.4" y2="425" stroke="#1e1e1e" stroke-width="1.2"/>
<polygon points="285.55,418.65 286.05,419.91 287.40,420.00 286.36,420.86 286.70,422.18 285.55,421.45 284.40,422.18 284.74,420.86 283.70,420.00 285.05,419.91" fill="#111"/>
<polygon points="289.45,418.65 289.95,419.91 291.30,420.00 290.26,420.86 290.60,422.18 289.45,421.45 288.30,422.18 288.64,420.86 287.60,420.00 288.95,419.91" fill="#111"/>
<text x="206.8" y="367.2" font-size="9.2" fill="#1a1a1a" letter-spacing="-0.1">(10<tspan class="s" baseline-shift="3.3" font-size="70%">5</tspan>)</text>
<text x="255.5" y="368.2" font-size="11" text-anchor="start" font-weight="normal" font-style="normal" fill="#1a1a1a" textLength="52.8" lengthAdjust="spacingAndGlyphs" >Progenitor</text>
<rect x="370.2" y="475.4" width="6.699999999999989" height="8.400000000000034" fill="#2c4e8c"/>
<line x1="373.54999999999995" y1="475.4" x2="373.54999999999995" y2="473.3" stroke="#3a3a3a" stroke-width="1.1"/>
<line x1="371.54999999999995" y1="473.8" x2="375.54999999999995" y2="473.8" stroke="#111" stroke-width="1.4"/>
<rect x="380.4" y="476" width="6.7000000000000455" height="7.800000000000011" fill="#6aad43"/>
<line x1="383.75" y1="476" x2="383.75" y2="474.8" stroke="#3a3a3a" stroke-width="1.1"/>
<line x1="381.75" y1="475.3" x2="385.75" y2="475.3" stroke="#111" stroke-width="1.4"/>
<rect x="390.4" y="436" width="6.7000000000000455" height="47.80000000000001" fill="#a60e2c"/>
<line x1="393.75" y1="436" x2="393.75" y2="416.2" stroke="#3a3a3a" stroke-width="1.1"/>
<line x1="391.75" y1="416.7" x2="395.75" y2="416.7" stroke="#111" stroke-width="1.4"/>
<rect x="407.7" y="414.8" width="6.5" height="69.0" fill="#2c4e8c"/>
<line x1="410.95" y1="414.8" x2="410.95" y2="398.8" stroke="#3a3a3a" stroke-width="1.1"/>
<line x1="408.95" y1="399.3" x2="412.95" y2="399.3" stroke="#111" stroke-width="1.4"/>
<rect x="417.7" y="418.7" width="6.5" height="65.10000000000002" fill="#6aad43"/>
<line x1="420.95" y1="418.7" x2="420.95" y2="411.3" stroke="#3a3a3a" stroke-width="1.1"/>
<line x1="418.95" y1="411.8" x2="422.95" y2="411.8" stroke="#111" stroke-width="1.4"/>
<rect x="427.9" y="405.8" width="6.5" height="78.0" fill="#a60e2c"/>
<line x1="431.15" y1="405.8" x2="431.15" y2="382.9" stroke="#3a3a3a" stroke-width="1.1"/>
<line x1="429.15" y1="383.4" x2="433.15" y2="383.4" stroke="#111" stroke-width="1.4"/>
<rect x="444.9" y="443.6" width="6.600000000000023" height="40.19999999999999" fill="#2c4e8c"/>
<line x1="448.2" y1="443.6" x2="448.2" y2="430.8" stroke="#3a3a3a" stroke-width="1.1"/>
<line x1="446.2" y1="431.3" x2="450.2" y2="431.3" stroke="#111" stroke-width="1.4"/>
<rect x="455.1" y="440.2" width="6.599999999999966" height="43.60000000000002" fill="#6aad43"/>
<line x1="458.4" y1="440.2" x2="458.4" y2="429.4" stroke="#3a3a3a" stroke-width="1.1"/>
<line x1="456.4" y1="429.9" x2="460.4" y2="429.9" stroke="#111" stroke-width="1.4"/>
<rect x="465.1" y="464" width="6.7999999999999545" height="19.80000000000001" fill="#a60e2c"/>
<line x1="468.5" y1="464" x2="468.5" y2="458" stroke="#3a3a3a" stroke-width="1.1"/>
<line x1="466.5" y1="458.5" x2="470.5" y2="458.5" stroke="#111" stroke-width="1.4"/>
<rect x="482.4" y="480.5" width="6.400000000000034" height="3.3000000000000114" fill="#2c4e8c"/>
<line x1="485.6" y1="480.5" x2="485.6" y2="477.9" stroke="#3a3a3a" stroke-width="1.1"/>
<line x1="483.6" y1="478.4" x2="487.6" y2="478.4" stroke="#111" stroke-width="1.4"/>
<rect x="492" y="480.5" width="6.699999999999989" height="3.3000000000000114" fill="#6aad43"/>
<line x1="495.35" y1="480.5" x2="495.35" y2="479.6" stroke="#3a3a3a" stroke-width="1.1"/>
<line x1="493.35" y1="480.1" x2="497.35" y2="480.1" stroke="#111" stroke-width="1.4"/>
<rect x="502.3" y="465.4" width="6.399999999999977" height="18.400000000000034" fill="#a60e2c"/>
<line x1="505.5" y1="465.4" x2="505.5" y2="447.6" stroke="#3a3a3a" stroke-width="1.1"/>
<line x1="503.5" y1="448.1" x2="507.5" y2="448.1" stroke="#111" stroke-width="1.4"/>
<line x1="366.3" y1="374" x2="366.3" y2="484.45" stroke="#1e1e1e" stroke-width="1.4"/>
<line x1="365.6" y1="483.8" x2="511.5" y2="483.8" stroke="#1e1e1e" stroke-width="1.4"/>
<line x1="363.1" y1="377.1" x2="366.3" y2="377.1" stroke="#1e1e1e" stroke-width="1.2"/>
<text x="359.8" y="379.827" font-size="10.1" text-anchor="end" font-weight="normal" font-style="normal" fill="#222" textLength="10.22" lengthAdjust="spacingAndGlyphs" >10</text>
<line x1="363.1" y1="398.5" x2="366.3" y2="398.5" stroke="#1e1e1e" stroke-width="1.2"/>
<text x="359.8" y="401.227" font-size="10.1" text-anchor="end" font-weight="normal" font-style="normal" fill="#222" textLength="5.11" lengthAdjust="spacingAndGlyphs" >8</text>
<line x1="363.1" y1="419.8" x2="366.3" y2="419.8" stroke="#1e1e1e" stroke-width="1.2"/>
<text x="359.8" y="422.527" font-size="10.1" text-anchor="end" font-weight="normal" font-style="normal" fill="#222" textLength="5.11" lengthAdjust="spacingAndGlyphs" >6</text>
<line x1="363.1" y1="441.2" x2="366.3" y2="441.2" stroke="#1e1e1e" stroke-width="1.2"/>
<text x="359.8" y="443.92699999999996" font-size="10.1" text-anchor="end" font-weight="normal" font-style="normal" fill="#222" textLength="5.11" lengthAdjust="spacingAndGlyphs" >4</text>
<line x1="363.1" y1="462.4" x2="366.3" y2="462.4" stroke="#1e1e1e" stroke-width="1.2"/>
<text x="359.8" y="465.12699999999995" font-size="10.1" text-anchor="end" font-weight="normal" font-style="normal" fill="#222" textLength="5.11" lengthAdjust="spacingAndGlyphs" >2</text>
<line x1="363.1" y1="483.8" x2="366.3" y2="483.8" stroke="#1e1e1e" stroke-width="1.2"/>
<text x="359.8" y="486.527" font-size="10.1" text-anchor="end" font-weight="normal" font-style="normal" fill="#222" textLength="5.11" lengthAdjust="spacingAndGlyphs" >0</text>
<line x1="383.6" y1="483.8" x2="383.6" y2="486.8" stroke="#1e1e1e" stroke-width="1.2"/>
<line x1="421" y1="483.8" x2="421" y2="486.8" stroke="#1e1e1e" stroke-width="1.2"/>
<line x1="458.4" y1="483.8" x2="458.4" y2="486.8" stroke="#1e1e1e" stroke-width="1.2"/>
<line x1="495.5" y1="483.8" x2="495.5" y2="486.8" stroke="#1e1e1e" stroke-width="1.2"/>
<text x="383.6" y="498.3" font-size="9.3" text-anchor="middle" fill="#222" textLength="26.6" lengthAdjust="spacingAndGlyphs">Mac1<tspan class="s" baseline-shift="3.3" font-size="70%">+</tspan></text>
<text x="420.6" y="498.3" font-size="9.3" text-anchor="middle" fill="#222" textLength="25.9" lengthAdjust="spacingAndGlyphs">B220<tspan class="s" baseline-shift="3.3" font-size="70%">+</tspan></text>
<text x="457.9" y="498.3" font-size="9.3" text-anchor="middle" fill="#222" textLength="31.8" lengthAdjust="spacingAndGlyphs">Thy1.2<tspan class="s" baseline-shift="3.3" font-size="70%">+</tspan></text>
<text x="494.6" y="498.3" font-size="9.3" text-anchor="middle" fill="#222" textLength="32.3" lengthAdjust="spacingAndGlyphs">Ter119<tspan class="s" baseline-shift="3.3" font-size="70%">+</tspan></text>
<line x1="374.2" y1="400.8" x2="394.2" y2="400.8" stroke="#1e1e1e" stroke-width="1.2"/>
<polygon points="380.30,394.45 380.80,395.71 382.15,395.80 381.11,396.66 381.45,397.98 380.30,397.25 379.15,397.98 379.49,396.66 378.45,395.80 379.80,395.71" fill="#111"/>
<polygon points="384.20,394.45 384.70,395.71 386.05,395.80 385.01,396.66 385.35,397.98 384.20,397.25 383.05,397.98 383.39,396.66 382.35,395.80 383.70,395.71" fill="#111"/>
<polygon points="388.10,394.45 388.60,395.71 389.95,395.80 388.91,396.66 389.25,397.98 388.10,397.25 386.95,397.98 387.29,396.66 386.25,395.80 387.60,395.71" fill="#111"/>
<line x1="384.2" y1="411.9" x2="394.2" y2="411.9" stroke="#1e1e1e" stroke-width="1.2"/>
<polygon points="385.30,405.55 385.80,406.81 387.15,406.90 386.11,407.76 386.45,409.08 385.30,408.35 384.15,409.08 384.49,407.76 383.45,406.90 384.80,406.81" fill="#111"/>
<polygon points="389.20,405.55 389.70,406.81 391.05,406.90 390.01,407.76 390.35,409.08 389.20,408.35 388.05,409.08 388.39,407.76 387.35,406.90 388.70,406.81" fill="#111"/>
<polygon points="393.10,405.55 393.60,406.81 394.95,406.90 393.91,407.76 394.25,409.08 393.10,408.35 391.95,409.08 392.29,407.76 391.25,406.90 392.60,406.81" fill="#111"/>
<line x1="448.5" y1="412.5" x2="468.4" y2="412.5" stroke="#1e1e1e" stroke-width="1.2"/>
<polygon points="458.60,406.15 459.10,407.41 460.45,407.50 459.41,408.36 459.75,409.68 458.60,408.95 457.45,409.68 457.79,408.36 456.75,407.50 458.10,407.41" fill="#111"/>
<line x1="458.6" y1="423.4" x2="468.4" y2="423.4" stroke="#1e1e1e" stroke-width="1.2"/>
<polygon points="463.40,417.05 463.90,418.31 465.25,418.40 464.21,419.26 464.55,420.58 463.40,419.85 462.25,420.58 462.59,419.26 461.55,418.40 462.90,418.31" fill="#111"/>
<text x="346.4" y="367.2" font-size="9.2" fill="#1a1a1a" letter-spacing="-0.1">(10<tspan class="s" baseline-shift="3.3" font-size="70%">7</tspan>)</text>
<text x="390.3" y="368.8" font-size="11" text-anchor="start" font-weight="normal" font-style="normal" fill="#1a1a1a" textLength="97.5" lengthAdjust="spacingAndGlyphs" >Lineage-committed</text>
<rect x="470.7" y="376.7" width="9.3" height="7.5" fill="#2c4e8c"/>
<text x="483.7" y="383.59999999999997" font-size="9" font-style="italic" fill="#1a1a1a">Utx<tspan dy="-3.4" font-size="6.6" font-style="normal">+/+</tspan></text>
<rect x="470.7" y="386.4" width="9.3" height="7.2000000000000455" fill="#6aad43"/>
<text x="483.7" y="393.0" font-size="9" font-style="italic" fill="#1a1a1a">Utx<tspan dy="-3.4" font-size="6.6" font-style="normal">+/&#916;</tspan></text>
<rect x="470.7" y="396" width="9.3" height="7.199999999999989" fill="#a60e2c"/>
<text x="483.7" y="402.59999999999997" font-size="9" font-style="italic" fill="#1a1a1a">Utx<tspan dy="-3.4" font-size="6.6" font-style="normal">&#916;/&#916;</tspan></text>
<text x="8.4" y="523.2" font-size="13.8" text-anchor="start" font-weight="bold" font-style="normal" fill="#000" >B</text>
<text x="160.2" y="523.4" font-size="10.8" text-anchor="middle" font-weight="normal" font-style="normal" fill="#1a1a1a" textLength="12.8" lengthAdjust="spacingAndGlyphs" >PB</text>
<text x="357" y="523.4" font-size="10.8" text-anchor="middle" font-weight="normal" font-style="normal" fill="#1a1a1a" textLength="16.5" lengthAdjust="spacingAndGlyphs" >BM</text>
<line x1="43.2" y1="530" x2="277" y2="530" stroke="#111" stroke-width="1.6"/>
<line x1="281" y1="530" x2="432.7" y2="530" stroke="#111" stroke-width="1.6"/>
<line x1="40.1" y1="534" x2="40.1" y2="668.4" stroke="#111" stroke-width="1.6"/>
<text transform="translate(33.5,616.6) rotate(-90)" font-size="11" font-style="italic" fill="#1a1a1a">Utx<tspan class="s" baseline-shift="3.6" font-size="8.4" font-style="normal">&#916;/&#916;</tspan></text>
<defs><filter id="soft50" x="-5%" y="-5%" width="110%" height="110%"><feGaussianBlur stdDeviation="0.5"/></filter><filter id="soft65" x="-5%" y="-5%" width="110%" height="110%"><feGaussianBlur stdDeviation="0.65"/></filter></defs>
<clipPath id="clip1"><rect x="43.5" y="534" width="76.50" height="62.00"/></clipPath><g clip-path="url(#clip1)"><rect x="43.5" y="534" width="76.50" height="62.00" fill="#f4eff6"/><g filter="url(#soft65)"><ellipse cx="103" cy="539" rx="6" ry="5.6" fill="#d6bbd9"/><ellipse cx="103" cy="539" rx="4.92" ry="4.592" fill="#dfc9e2"/><ellipse cx="90.8" cy="555" rx="5.2" ry="4.8" fill="#d6bbd9"/><ellipse cx="90.8" cy="555" rx="4.264" ry="3.9359999999999995" fill="#dfc9e2"/><ellipse cx="103" cy="557.6" rx="6" ry="5.5" fill="#d6bbd9"/><ellipse cx="103" cy="557.6" rx="4.92" ry="4.51" fill="#dfc9e2"/><ellipse cx="95.4" cy="561.5" rx="4.8" ry="5" fill="#d6bbd9"/><ellipse cx="95.4" cy="561.5" rx="3.9359999999999995" ry="4.1" fill="#dfc9e2"/><ellipse cx="112" cy="563.7" rx="5.2" ry="4.6" fill="#d6bbd9"/><ellipse cx="112" cy="563.7" rx="4.264" ry="3.7719999999999994" fill="#dfc9e2"/><ellipse cx="77.3" cy="559.2" rx="5.6" ry="5" fill="#d6bbd9"/><ellipse cx="77.3" cy="559.2" rx="4.592" ry="4.1" fill="#dfc9e2"/><ellipse cx="72.3" cy="567.6" rx="5.5" ry="5.2" fill="#d6bbd9"/><ellipse cx="72.3" cy="567.6" rx="4.51" ry="4.264" fill="#dfc9e2"/><ellipse cx="114.7" cy="584.7" rx="5.5" ry="5.5" fill="#d6bbd9"/><ellipse cx="114.7" cy="584.7" rx="4.51" ry="4.51" fill="#dfc9e2"/><ellipse cx="67" cy="561.5" rx="2.3" ry="2.3" fill="#d6b9d9"/><ellipse cx="75" cy="593" rx="2" ry="1.6" fill="#d6b9d9"/><ellipse cx="46" cy="566" rx="1.5" ry="1.2" fill="#e6d8ea"/><ellipse cx="80.2" cy="567.5" rx="3.2" ry="5.5" fill="#ffffff"/><ellipse cx="88" cy="568" rx="8.5" ry="8.5" fill="#fbf8fc" opacity="0.8"/><ellipse cx="88.1" cy="565.5" rx="6.9" ry="5.6" fill="#743f98" transform="rotate(-12 88.1 565.5)"/><ellipse cx="84.3" cy="572.2" rx="4.6" ry="3.6" fill="#743f98" transform="rotate(10 84.3 572.2)"/><ellipse cx="86.5" cy="569.2" rx="5" ry="0.6" fill="#f4eef6" transform="rotate(-5 86.5 569.2)"/></g><line x1="103" y1="578.4" x2="98.07" y2="575.87" stroke="#000" stroke-width="1.35"/><polygon points="95.4,574.5 99.61,574.19 97.60,578.10" fill="#000"/><text class="n" x="47.2" y="591.8" font-size="9.9" font-weight="bold" fill="#000" stroke="#fff" stroke-width="1.4" paint-order="stroke">1</text></g>
<clipPath id="clip3"><rect x="122.3" y="534" width="76.90" height="62.00"/></clipPath><g clip-path="url(#clip3)"><rect x="122.3" y="534" width="76.90" height="62.00" fill="#e4d2e6"/><g filter="url(#soft65)"><ellipse cx="130.2" cy="553.8" rx="7.5" ry="7" fill="#d1b3d5"/><ellipse cx="130.2" cy="553.8" rx="6.1499999999999995" ry="5.739999999999999" fill="#dec7e0"/><ellipse cx="144" cy="552" rx="6.3" ry="6.3" fill="#d1b3d5"/><ellipse cx="144" cy="552" rx="5.1659999999999995" ry="5.1659999999999995" fill="#dec7e0"/><ellipse cx="164.8" cy="543" rx="7.5" ry="7" fill="#d1b3d5"/><ellipse cx="164.8" cy="543" rx="6.1499999999999995" ry="5.739999999999999" fill="#dec7e0"/><ellipse cx="177" cy="547" rx="6.5" ry="6.5" fill="#d1b3d5"/><ellipse cx="177" cy="547" rx="5.33" ry="5.33" fill="#dec7e0"/><ellipse cx="188.7" cy="551.5" rx="6.5" ry="6.5" fill="#d1b3d5"/><ellipse cx="188.7" cy="551.5" rx="5.33" ry="5.33" fill="#dec7e0"/><ellipse cx="139.5" cy="565" rx="7.5" ry="7" fill="#d1b3d5"/><ellipse cx="139.5" cy="565" rx="6.1499999999999995" ry="5.739999999999999" fill="#dec7e0"/><ellipse cx="144" cy="579" rx="6.5" ry="6.5" fill="#d1b3d5"/><ellipse cx="144" cy="579" rx="5.33" ry="5.33" fill="#dec7e0"/><ellipse cx="154" cy="589" rx="6.5" ry="6" fill="#d1b3d5"/><ellipse cx="154" cy="589" rx="5.33" ry="4.92" fill="#dec7e0"/><ellipse cx="185.6" cy="577.6" rx="6.5" ry="6.5" fill="#d1b3d5"/><ellipse cx="185.6" cy="577.6" rx="5.33" ry="5.33" fill="#dec7e0"/><ellipse cx="185.6" cy="590" rx="6.5" ry="6" fill="#d1b3d5"/><ellipse cx="185.6" cy="590" rx="5.33" ry="4.92" fill="#dec7e0"/><ellipse cx="197" cy="562" rx="5" ry="6" fill="#d1b3d5"/><ellipse cx="197" cy="562" rx="4.1" ry="4.92" fill="#dec7e0"/><ellipse cx="129" cy="577" rx="5" ry="6" fill="#d1b3d5"/><ellipse cx="129" cy="577" rx="4.1" ry="4.92" fill="#dec7e0"/><ellipse cx="170" cy="586" rx="6" ry="6" fill="#d1b3d5"/><ellipse cx="170" cy="586" rx="4.92" ry="4.92" fill="#dec7e0"/><ellipse cx="151" cy="538" rx="6" ry="5" fill="#d1b3d5"/><ellipse cx="151" cy="538" rx="4.92" ry="4.1" fill="#dec7e0"/><ellipse cx="127" cy="538" rx="6" ry="5" fill="#d1b3d5"/><ellipse cx="127" cy="538" rx="4.92" ry="4.1" fill="#dec7e0"/><ellipse cx="196" cy="538" rx="5" ry="5" fill="#d1b3d5"/><ellipse cx="196" cy="538" rx="4.1" ry="4.1" fill="#dec7e0"/><ellipse cx="130" cy="592" rx="5" ry="4" fill="#d1b3d5"/><ellipse cx="130" cy="592" rx="4.1" ry="3.28" fill="#dec7e0"/><ellipse cx="167.3" cy="567.8" rx="13" ry="12.6" fill="#eadcec"/><ellipse cx="168" cy="568.5" rx="8.5" ry="8.5" fill="#743f98"/><ellipse cx="158.8" cy="566.5" rx="4.6" ry="5" fill="#743f98"/><ellipse cx="161" cy="574" rx="4.6" ry="4.2" fill="#743f98"/><ellipse cx="168" cy="577" rx="4.6" ry="3.6" fill="#743f98"/><ellipse cx="175" cy="572.5" rx="4.4" ry="4.6" fill="#743f98"/><ellipse cx="176" cy="565" rx="4" ry="4.2" fill="#743f98"/><ellipse cx="171.5" cy="559.8" rx="3.6" ry="3" fill="#743f98"/><ellipse cx="165.5" cy="561.5" rx="2.6" ry="2.2" fill="#743f98"/><ellipse cx="168.5" cy="557.5" rx="1.4" ry="1.4" fill="#743f98"/><ellipse cx="167.5" cy="572.5" rx="2.6" ry="1.8" fill="#efe4f2"/><ellipse cx="170.8" cy="563.8" rx="1.2" ry="1.2" fill="#efe4f2"/><ellipse cx="162.3" cy="559.5" rx="2.4" ry="2.2" fill="#eee2f0"/><ellipse cx="165" cy="568" rx="1.3" ry="1" fill="#efe4f2"/></g><polygon points="160.1,558.4 153.65,557.49 158.09,552.21" fill="#000" stroke="#fff" stroke-width="1" stroke-linejoin="round" paint-order="stroke"/><text class="n" x="129.0" y="591.8" font-size="9.9" font-weight="bold" fill="#000" stroke="#fff" stroke-width="1.4" paint-order="stroke">3</text></g>
<clipPath id="clip5"><rect x="200.8" y="534" width="77.00" height="62.00"/></clipPath><g clip-path="url(#clip5)"><rect x="200.8" y="534" width="77.00" height="62.00" fill="#f2edf4"/><g filter="url(#soft65)"><ellipse cx="256" cy="541.5" rx="6.8" ry="6.5" fill="#d6bbd9"/><ellipse cx="256" cy="541.5" rx="5.576" ry="5.33" fill="#dfc9e2"/><ellipse cx="264.6" cy="551.5" rx="6.8" ry="6.5" fill="#d6bbd9"/><ellipse cx="264.6" cy="551.5" rx="5.576" ry="5.33" fill="#dfc9e2"/><ellipse cx="247.7" cy="552.2" rx="7.2" ry="7" fill="#d6bbd9"/><ellipse cx="247.7" cy="552.2" rx="5.904" ry="5.739999999999999" fill="#dfc9e2"/><ellipse cx="237.7" cy="562.2" rx="7" ry="7" fill="#d6bbd9"/><ellipse cx="237.7" cy="562.2" rx="5.739999999999999" ry="5.739999999999999" fill="#dfc9e2"/><ellipse cx="237" cy="574.5" rx="7" ry="6.8" fill="#d6bbd9"/><ellipse cx="237" cy="574.5" rx="5.739999999999999" ry="5.576" fill="#dfc9e2"/><ellipse cx="234.6" cy="585.3" rx="6.5" ry="6" fill="#d6bbd9"/><ellipse cx="234.6" cy="585.3" rx="5.33" ry="4.92" fill="#dfc9e2"/><ellipse cx="258.5" cy="590" rx="7" ry="6.5" fill="#d6bbd9"/><ellipse cx="258.5" cy="590" rx="5.739999999999999" ry="5.33" fill="#dfc9e2"/><ellipse cx="243" cy="593.8" rx="6.5" ry="5" fill="#d6bbd9"/><ellipse cx="243" cy="593.8" rx="5.33" ry="4.1" fill="#dfc9e2"/><ellipse cx="271" cy="565" rx="5" ry="5" fill="#ebe2ee"/><ellipse cx="262" cy="572" rx="5" ry="5" fill="#ede5f0"/><ellipse cx="237.2" cy="565.6" rx="1.9" ry="1.9" fill="#4a2b8a"/></g><line x1="220" y1="553.8" x2="225.98" y2="558.70" stroke="#000" stroke-width="1.35"/><polygon points="228.3,560.6 224.12,560.02 226.91,556.62" fill="#000"/><text class="n" x="208.2" y="591.8" font-size="9.9" font-weight="bold" fill="#000" stroke="#fff" stroke-width="1.4" paint-order="stroke">5</text></g>
<clipPath id="clip2"><rect x="43.3" y="606.2" width="76.30" height="61.60"/></clipPath><g clip-path="url(#clip2)"><rect x="43.3" y="606.2" width="76.30" height="61.60" fill="#f5eef5"/><g filter="url(#soft65)"><ellipse cx="82" cy="611" rx="7.5" ry="6.5" fill="#dcb2d2"/><ellipse cx="82" cy="611" rx="6.1499999999999995" ry="5.33" fill="#e6c3dc"/><ellipse cx="90.2" cy="617.7" rx="6.5" ry="6" fill="#dcb2d2"/><ellipse cx="90.2" cy="617.7" rx="5.33" ry="4.92" fill="#e6c3dc"/><ellipse cx="73.7" cy="617.7" rx="6" ry="5.5" fill="#dcb2d2"/><ellipse cx="73.7" cy="617.7" rx="4.92" ry="4.51" fill="#e6c3dc"/><ellipse cx="88" cy="629.7" rx="5.5" ry="6" fill="#dcb2d2"/><ellipse cx="88" cy="629.7" rx="4.51" ry="4.92" fill="#e6c3dc"/><ellipse cx="67.7" cy="641.7" rx="5.5" ry="6" fill="#dcb2d2"/><ellipse cx="67.7" cy="641.7" rx="4.51" ry="4.92" fill="#e6c3dc"/><ellipse cx="75.2" cy="648.5" rx="5.5" ry="5.5" fill="#dcb2d2"/><ellipse cx="75.2" cy="648.5" rx="4.51" ry="4.51" fill="#e6c3dc"/><ellipse cx="91" cy="646.2" rx="5.5" ry="6.5" fill="#dcb2d2"/><ellipse cx="91" cy="646.2" rx="4.51" ry="5.33" fill="#e6c3dc"/><ellipse cx="82" cy="652.2" rx="5" ry="5" fill="#dcb2d2"/><ellipse cx="82" cy="652.2" rx="4.1" ry="4.1" fill="#e6c3dc"/><ellipse cx="109" cy="642.5" rx="6" ry="6" fill="#dcb2d2"/><ellipse cx="109" cy="642.5" rx="4.92" ry="4.92" fill="#e6c3dc"/><ellipse cx="100" cy="652.2" rx="6" ry="6" fill="#dcb2d2"/><ellipse cx="100" cy="652.2" rx="4.92" ry="4.92" fill="#e6c3dc"/><ellipse cx="113.5" cy="655.2" rx="6" ry="6" fill="#dcb2d2"/><ellipse cx="113.5" cy="655.2" rx="4.92" ry="4.92" fill="#e6c3dc"/><ellipse cx="103" cy="662.7" rx="6" ry="5.5" fill="#dcb2d2"/><ellipse cx="103" cy="662.7" rx="4.92" ry="4.51" fill="#e6c3dc"/><ellipse cx="117" cy="636.5" rx="4" ry="6" fill="#dcb2d2"/><ellipse cx="117" cy="636.5" rx="3.28" ry="4.92" fill="#e6c3dc"/><ellipse cx="117" cy="611" rx="5" ry="5" fill="#dcb2d2"/><ellipse cx="117" cy="611" rx="4.1" ry="4.1" fill="#e6c3dc"/><ellipse cx="88" cy="664" rx="6" ry="4" fill="#dcb2d2"/><ellipse cx="88" cy="664" rx="4.92" ry="3.28" fill="#e6c3dc"/><ellipse cx="72.6" cy="629.5" rx="3.4" ry="4.6" fill="#ffffff"/><ellipse cx="77" cy="632" rx="8" ry="7" fill="#fbf7fb" opacity="0.6"/><ellipse cx="78.7" cy="627" rx="5.3" ry="4.2" fill="#7c4399"/><ellipse cx="79" cy="626.6" rx="3.2" ry="2.4" fill="#8d56a3"/><ellipse cx="77.2" cy="637.8" rx="8.8" ry="5.8" fill="#77409a" transform="rotate(3 77.2 637.8)"/><ellipse cx="73" cy="632.3" rx="4" ry="0.7" fill="#faf6fa"/></g><line x1="56.5" y1="626" x2="63.40" y2="628.63" stroke="#000" stroke-width="1.35"/><polygon points="66.2,629.7 62.05,630.47 63.62,626.36" fill="#000"/><text class="n" x="47.0" y="663.4" font-size="9.9" font-weight="bold" fill="#000" stroke="#fff" stroke-width="1.4" paint-order="stroke">2</text></g>
<clipPath id="clip4"><rect x="121.8" y="606.2" width="76.60" height="61.60"/></clipPath><g clip-path="url(#clip4)"><rect x="121.8" y="606.2" width="76.60" height="61.60" fill="#f3eff5"/><g filter="url(#soft65)"><ellipse cx="188.4" cy="619.6" rx="6.3" ry="6" fill="#d6bbd9"/><ellipse cx="188.4" cy="619.6" rx="5.1659999999999995" ry="4.92" fill="#dfc9e2"/><ellipse cx="174" cy="632" rx="6.8" ry="6.3" fill="#d6bbd9"/><ellipse cx="174" cy="632" rx="5.576" ry="5.1659999999999995" fill="#dfc9e2"/><ellipse cx="174" cy="645.3" rx="6" ry="6" fill="#d6bbd9"/><ellipse cx="174" cy="645.3" rx="4.92" ry="4.92" fill="#dfc9e2"/><ellipse cx="176.4" cy="657.3" rx="8.3" ry="4.5" fill="#d6bbd9"/><ellipse cx="176.4" cy="657.3" rx="6.806" ry="3.69" fill="#dfc9e2"/><ellipse cx="140.2" cy="660.4" rx="6.5" ry="6" fill="#d6bbd9"/><ellipse cx="140.2" cy="660.4" rx="5.33" ry="4.92" fill="#dfc9e2"/><ellipse cx="160" cy="654" rx="6" ry="5" fill="#ece3ef"/><ellipse cx="132" cy="626.5" rx="2.5" ry="2.8" fill="#b995c4"/><ellipse cx="148" cy="615.5" rx="1.5" ry="1.5" fill="#8a5aa5"/><ellipse cx="131" cy="612.5" rx="2" ry="1" fill="#b48cc0"/><ellipse cx="180" cy="617" rx="1.3" ry="1.3" fill="#b48cc0"/><ellipse cx="162.4" cy="640" rx="7.1" ry="7.0" fill="#8f75b8"/><ellipse cx="162.6" cy="640.4" rx="4.8" ry="4.6" fill="#9a82c0" opacity="0.7"/></g><polygon points="156.6,633.2 150.10,632.86 154.06,627.21" fill="#000" stroke="#fff" stroke-width="1" stroke-linejoin="round" paint-order="stroke"/><text class="n" x="128.0" y="663.4" font-size="9.9" font-weight="bold" fill="#000" stroke="#fff" stroke-width="1.4" paint-order="stroke">4</text></g>
<clipPath id="clip6"><rect x="201" y="606.2" width="77.00" height="61.60"/></clipPath><g clip-path="url(#clip6)"><rect x="201" y="606.2" width="77.00" height="61.60" fill="#f4eff6"/><g filter="url(#soft65)"><ellipse cx="229.5" cy="610.6" rx="6" ry="5.5" fill="#d6bbd9"/><ellipse cx="229.5" cy="610.6" rx="4.92" ry="4.51" fill="#dfc9e2"/><ellipse cx="222.5" cy="616" rx="6" ry="6" fill="#d6bbd9"/><ellipse cx="222.5" cy="616" rx="4.92" ry="4.92" fill="#dfc9e2"/><ellipse cx="231" cy="621.4" rx="6" ry="6" fill="#d6bbd9"/><ellipse cx="231" cy="621.4" rx="4.92" ry="4.92" fill="#dfc9e2"/><ellipse cx="238" cy="616.8" rx="5" ry="5" fill="#d6bbd9"/><ellipse cx="238" cy="616.8" rx="4.1" ry="4.1" fill="#dfc9e2"/><ellipse cx="207.2" cy="639" rx="6" ry="6" fill="#d6bbd9"/><ellipse cx="207.2" cy="639" rx="4.92" ry="4.92" fill="#dfc9e2"/><ellipse cx="209.5" cy="650.6" rx="6" ry="6" fill="#d6bbd9"/><ellipse cx="209.5" cy="650.6" rx="4.92" ry="4.92" fill="#dfc9e2"/><ellipse cx="218.7" cy="652.2" rx="6" ry="6.5" fill="#d6bbd9"/><ellipse cx="218.7" cy="652.2" rx="4.92" ry="5.33" fill="#dfc9e2"/><ellipse cx="210" cy="662" rx="6" ry="5" fill="#d6bbd9"/><ellipse cx="210" cy="662" rx="4.92" ry="4.1" fill="#dfc9e2"/><ellipse cx="279" cy="617" rx="3.5" ry="6" fill="#d6bbd9"/><ellipse cx="279" cy="617" rx="2.8699999999999997" ry="4.92" fill="#dfc9e2"/><ellipse cx="278" cy="628" rx="3" ry="5" fill="#d6bbd9"/><ellipse cx="278" cy="628" rx="2.46" ry="4.1" fill="#dfc9e2"/><ellipse cx="278" cy="640" rx="3" ry="5" fill="#d6bbd9"/><ellipse cx="278" cy="640" rx="2.46" ry="4.1" fill="#dfc9e2"/><ellipse cx="220.7" cy="625.2" rx="4.6" ry="3" fill="#743f98"/><ellipse cx="217.2" cy="632.2" rx="3.2" ry="3" fill="#743f98"/><ellipse cx="225.6" cy="630.6" rx="1.4" ry="1.4" fill="#743f98"/><ellipse cx="229.5" cy="630.5" rx="1.6" ry="1.6" fill="#743f98"/><ellipse cx="232.5" cy="629.8" rx="1.7" ry="1.7" fill="#743f98"/><ellipse cx="235.3" cy="628.4" rx="1.7" ry="1.7" fill="#743f98"/><ellipse cx="234" cy="642.2" rx="3.3" ry="3" fill="#743f98"/><ellipse cx="230.5" cy="643.8" rx="1.6" ry="1.6" fill="#743f98"/><ellipse cx="229.5" cy="647.5" rx="2.5" ry="2.3" fill="#743f98"/><ellipse cx="241" cy="643.2" rx="2" ry="2" fill="#743f98"/><ellipse cx="238" cy="647.5" rx="1.6" ry="1.6" fill="#743f98"/><ellipse cx="234.5" cy="648.5" rx="1.4" ry="1.4" fill="#743f98"/><ellipse cx="225.8" cy="646" rx="1" ry="1" fill="#743f98"/><ellipse cx="267.5" cy="636.4" rx="2.8" ry="2.6" fill="#743f98"/><ellipse cx="264.5" cy="636.8" rx="1.5" ry="1.5" fill="#743f98"/><ellipse cx="265.6" cy="642.2" rx="3" ry="2.7" fill="#743f98"/><ellipse cx="277" cy="659" rx="6" ry="7" fill="#6a3790"/></g><line x1="204.8" y1="616.8" x2="208.76" y2="620.31" stroke="#000" stroke-width="1.35"/><polygon points="211,622.3 206.85,621.56 209.77,618.27" fill="#000"/><line x1="254.8" y1="623.7" x2="258.43" y2="628.25" stroke="#000" stroke-width="1.35"/><polygon points="260.3,630.6 256.34,629.16 259.78,626.41" fill="#000"/><line x1="245.6" y1="661.5" x2="242.15" y2="657.48" stroke="#000" stroke-width="1.35"/><polygon points="240.2,655.2 244.21,656.50 240.87,659.37" fill="#000"/><text class="n" x="207.79999999999998" y="663.4" font-size="9.9" font-weight="bold" fill="#000" stroke="#fff" stroke-width="1.4" paint-order="stroke">6</text></g>
<clipPath id="clip7"><rect x="282" y="534" width="76.50" height="62.30"/></clipPath><g clip-path="url(#clip7)"><rect x="282" y="534" width="76.50" height="62.30" fill="#f5f4f7"/><g filter="url(#soft50)"><ellipse cx="301.4" cy="553.1" rx="14.4" ry="12.8" fill="#ffffff"/><ellipse cx="301.4" cy="553.1" rx="13.4" ry="11.8" fill="#9d62a8"/><ellipse cx="294" cy="551" rx="5.5" ry="5" fill="#8a4c98"/><ellipse cx="307" cy="549.7" rx="5.5" ry="5" fill="#8a4c98"/><ellipse cx="305" cy="559.8" rx="6" ry="4" fill="#8c4e98"/><ellipse cx="293.5" cy="558" rx="4" ry="3" fill="#94569e"/><ellipse cx="300" cy="554" rx="1.6" ry="1.8" fill="#f3eaf4"/><ellipse cx="321" cy="555" rx="4.6" ry="6.7" fill="#5d3a8f" transform="rotate(15 321 555)"/><ellipse cx="317.5" cy="553" rx="1.2" ry="2.5" fill="#cdb9dc"/><ellipse cx="310.6" cy="570.5" rx="9.2" ry="7" fill="#6a3f94" transform="rotate(-10 310.6 570.5)"/><ellipse cx="312" cy="570.5" rx="2.4" ry="2.4" fill="#ecdced"/><ellipse cx="348" cy="551.7" rx="6.5" ry="5.1" fill="#6a3e94"/><ellipse cx="352" cy="552.5" rx="2" ry="2.5" fill="#d6c9e2"/><ellipse cx="345.5" cy="551" rx="1.3" ry="1.3" fill="#e0d2e8"/><ellipse cx="350.7" cy="568.5" rx="7.4" ry="6.5" fill="#5e3a93" transform="rotate(20 350.7 568.5)"/><ellipse cx="333.2" cy="586" rx="9.5" ry="8.6" fill="#5f3a92"/><ellipse cx="327.5" cy="586.2" rx="3" ry="5.5" fill="#c9b3d6"/><ellipse cx="351" cy="584" rx="7.2" ry="7.2" fill="#5d3a92"/><ellipse cx="358" cy="558.7" rx="1.4" ry="6" fill="#5d3a92"/><ellipse cx="340" cy="596.5" rx="2.5" ry="1" fill="#b8a2cc"/></g><line x1="320.3" y1="534.5" x2="314.07" y2="541.03" stroke="#000" stroke-width="1.35"/><polygon points="312,543.2 312.89,539.08 316.08,542.11" fill="#000"/><text class="n" x="289.0" y="591.8" font-size="9.9" font-weight="bold" fill="#000" stroke="#fff" stroke-width="1.4" paint-order="stroke">7</text></g>
<clipPath id="clip9"><rect x="361.5" y="534" width="76.50" height="62.30"/></clipPath><g clip-path="url(#clip9)"><rect x="361.5" y="534" width="76.50" height="62.30" fill="#f5f4f7"/><g filter="url(#soft50)"><ellipse cx="389.7" cy="546.3" rx="11.3" ry="10.8" fill="#ffffff"/><ellipse cx="389.7" cy="546.3" rx="10.5" ry="10" fill="#7a4a9c"/><ellipse cx="396" cy="543" rx="5" ry="6" fill="#c38cbd"/><ellipse cx="390.4" cy="546.8" rx="4.5" ry="2.4" fill="#ebdcee"/><ellipse cx="389.5" cy="552.7" rx="8" ry="3.8" fill="#6a3c92"/><ellipse cx="421" cy="568.3" rx="12.4" ry="12.3" fill="#5f479e"/><ellipse cx="420.4" cy="575" rx="2.2" ry="1.6" fill="#c8b2da"/><ellipse cx="368" cy="570" rx="6" ry="7.2" fill="#6e4398"/><ellipse cx="365.2" cy="570.4" rx="1.8" ry="1.8" fill="#dccbe6"/><ellipse cx="392" cy="573.8" rx="8.2" ry="6.8" fill="#62409a"/><ellipse cx="388" cy="588.8" rx="8.9" ry="6.8" fill="#62409a"/><ellipse cx="433.4" cy="593" rx="6" ry="4.5" fill="#7e4c9e"/><ellipse cx="397.3" cy="597" rx="4" ry="2.5" fill="#6a4395"/></g><line x1="411" y1="536.3" x2="404.97" y2="539.95" stroke="#000" stroke-width="1.35"/><polygon points="402.4,541.5 404.34,537.75 406.62,541.52" fill="#000"/><polygon points="426.4,554 426.51,547.49 432.30,551.25" fill="#000" stroke="#fff" stroke-width="1" stroke-linejoin="round" paint-order="stroke"/><text class="n" x="365.0" y="591.8" font-size="9.9" font-weight="bold" fill="#000" stroke="#fff" stroke-width="1.4" paint-order="stroke">9</text></g>
<clipPath id="clip8"><rect x="282" y="606.2" width="76.50" height="61.60"/></clipPath><g clip-path="url(#clip8)"><rect x="282" y="606.2" width="76.50" height="61.60" fill="#f4f3f7"/><g filter="url(#soft50)"><ellipse cx="302.7" cy="623" rx="12.8" ry="10.5" fill="#7f66aa"/><ellipse cx="309" cy="624" rx="7" ry="7" fill="#6a4a9c"/><ellipse cx="294" cy="620" rx="4.5" ry="5.5" fill="#ad9bcb"/><ellipse cx="332" cy="637.2" rx="12.2" ry="12" fill="#8c76b2"/><ellipse cx="326" cy="633" rx="5.5" ry="8.5" fill="#5e3c92" transform="rotate(20 326 633)"/><ellipse cx="338" cy="632" rx="4" ry="4" fill="#5a4092"/><ellipse cx="336" cy="644" rx="5" ry="4" fill="#b6a4cc"/><ellipse cx="311.4" cy="649.5" rx="8.3" ry="7.3" fill="#6a3e94"/><ellipse cx="312.3" cy="650" rx="3.6" ry="2.8" fill="#f0eaf4"/><ellipse cx="318.9" cy="610.4" rx="6" ry="5" fill="#6b4798"/><ellipse cx="315" cy="612" rx="3" ry="3" fill="#e4d8ea"/><ellipse cx="347.6" cy="624.4" rx="7" ry="6.5" fill="#4f3c90" transform="rotate(30 347.6 624.4)"/><ellipse cx="346" cy="646.9" rx="7.8" ry="6.9" fill="#55408f"/><ellipse cx="337.5" cy="657" rx="5.3" ry="5" fill="#4f3c90"/><ellipse cx="352" cy="663.5" rx="7.5" ry="6.5" fill="#6a3e94"/><ellipse cx="352" cy="663.8" rx="2.2" ry="2.2" fill="#f0eaf4"/><ellipse cx="356.8" cy="617" rx="3.5" ry="7" fill="#6b4798"/><ellipse cx="357.5" cy="635" rx="2.5" ry="6" fill="#6b4798"/><ellipse cx="285" cy="630.5" rx="4" ry="4.5" fill="#dccbe3"/><ellipse cx="285" cy="630.5" rx="1.6" ry="1.6" fill="#f2eef6"/><ellipse cx="328" cy="663.8" rx="3.2" ry="3.8" fill="#c990c4"/><ellipse cx="319" cy="637" rx="1.2" ry="3" fill="#5e3c92"/></g><polygon points="299,611.5 292.87,610.09 297.59,605.37" fill="#000" stroke="#fff" stroke-width="1" stroke-linejoin="round" paint-order="stroke"/><polygon points="327.2,624.8 322.99,620.12 329.56,618.97" fill="#000" stroke="#fff" stroke-width="1" stroke-linejoin="round" paint-order="stroke"/><text class="n" x="286.20000000000005" y="663.4" font-size="9.9" font-weight="bold" fill="#000" stroke="#fff" stroke-width="1.4" paint-order="stroke">8</text></g>
<clipPath id="clip10"><rect x="361.5" y="606.2" width="77.00" height="61.60"/></clipPath><g clip-path="url(#clip10)"><rect x="361.5" y="606.2" width="77.00" height="61.60" fill="#f4f3f7"/><g filter="url(#soft50)"><ellipse cx="372.2" cy="612" rx="9" ry="8" fill="#6e4599"/><ellipse cx="374" cy="610" rx="2.5" ry="1.5" fill="#d9c6e4"/><ellipse cx="396" cy="618.4" rx="10.5" ry="10.6" fill="#744c9c"/><ellipse cx="398" cy="616" rx="2" ry="1.5" fill="#d9c5e4"/><ellipse cx="383" cy="620" rx="2.5" ry="3" fill="#5a3f92"/><ellipse cx="384" cy="626" rx="3" ry="2.5" fill="#d8a8d0"/><ellipse cx="392" cy="634.2" rx="5" ry="5.3" fill="#4a3e95"/><ellipse cx="410.4" cy="622.3" rx="4.3" ry="4.3" fill="#4e3f95"/><ellipse cx="403.7" cy="636.3" rx="4.4" ry="5.5" fill="#5e3f95"/><ellipse cx="418.4" cy="634" rx="9.4" ry="8.7" fill="#8a5aa3"/><ellipse cx="421" cy="637" rx="4.5" ry="3.5" fill="#b68cc0"/><ellipse cx="369.5" cy="637.4" rx="6.2" ry="7.1" fill="#804e9e"/><ellipse cx="371" cy="640" rx="2" ry="1.5" fill="#e2cbe8"/><ellipse cx="429.2" cy="624.3" rx="2.8" ry="2.6" fill="#7a4599"/><ellipse cx="434.7" cy="623.9" rx="2.8" ry="2.4" fill="#7a4599"/><ellipse cx="427.8" cy="628" rx="2.4" ry="2.4" fill="#7a4599"/><ellipse cx="430.6" cy="632.6" rx="2.4" ry="2.2" fill="#7a4599"/><ellipse cx="427.8" cy="650.1" rx="6.4" ry="7" fill="#7a3e8e"/><ellipse cx="428.3" cy="650" rx="3.4" ry="3.4" fill="#f3eef6"/><ellipse cx="393.7" cy="657.8" rx="6.8" ry="7.8" fill="#4d3f97"/><ellipse cx="416.6" cy="650.8" rx="5.5" ry="5.5" fill="#4a3f98"/><ellipse cx="408.1" cy="657" rx="6" ry="6" fill="#4a3f98"/><ellipse cx="420" cy="661.3" rx="4.7" ry="4.7" fill="#4a3f98"/><ellipse cx="399" cy="657.5" rx="2" ry="5.5" fill="#4a3f98"/><ellipse cx="437.5" cy="641.3" rx="2" ry="6" fill="#7a4a9c"/><ellipse cx="407.6" cy="608" rx="6" ry="3" fill="#7a4a9c"/><ellipse cx="407.6" cy="607.5" rx="2.5" ry="1.2" fill="#f3eef6"/></g><line x1="429.2" y1="608.3" x2="429.20" y2="616.80" stroke="#000" stroke-width="1.35"/><polygon points="429.2,619.8 427.00,616.20 431.40,616.20" fill="#000"/><line x1="385.8" y1="648.7" x2="378.71" y2="644.68" stroke="#000" stroke-width="1.35"/><polygon points="376.1,643.2 380.32,643.06 378.15,646.89" fill="#000"/><text class="n" x="363.1" y="663.6" font-size="9.9" font-weight="bold" fill="#000" stroke="#fff" stroke-width="1.4" paint-order="stroke">10</text></g>
<rect x="0.5" y="0.5" width="519" height="675" fill="none" stroke="#000" stroke-width="1"/>
</svg>
</body></html>
